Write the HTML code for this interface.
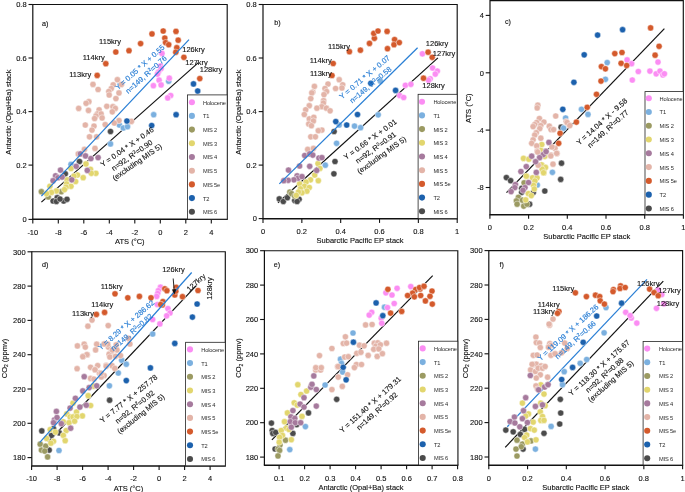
<!DOCTYPE html>
<html><head><meta charset="utf-8"><title>Scatter panels</title>
<style>
html,body{margin:0;padding:0;background:#fff;}
body{width:685px;height:492px;overflow:hidden;}
svg{display:block;font-family:"Liberation Sans",sans-serif;will-change:transform;filter:blur(0.25px);}
</style></head><body>
<svg width="685" height="492" viewBox="0 0 685 492">
<rect width="685" height="492" fill="#fff"/>
<path d="M32.8 4.5 H227.2 V219.1" fill="none" stroke="#111" stroke-width="1.15"/>
<line x1="32.8" y1="4" x2="32.8" y2="219.1" stroke="#111" stroke-width="1.2"/>
<line x1="32.2" y1="219.3" x2="227.75" y2="219.3" stroke="#111" stroke-width="1.5"/>
<line x1="28.5" y1="219.4" x2="32.8" y2="219.4" stroke="#111" stroke-width="1.1"/>
<text x="26.6" y="222.15" font-size="7.5" text-anchor="end" fill="#111" stroke="#111" stroke-width="0.12">0</text>
<line x1="28.5" y1="165.1" x2="32.8" y2="165.1" stroke="#111" stroke-width="1.1"/>
<text x="26.6" y="167.85" font-size="7.5" text-anchor="end" fill="#111" stroke="#111" stroke-width="0.12">0.2</text>
<line x1="28.5" y1="111.6" x2="32.8" y2="111.6" stroke="#111" stroke-width="1.1"/>
<text x="26.6" y="114.35" font-size="7.5" text-anchor="end" fill="#111" stroke="#111" stroke-width="0.12">0.4</text>
<line x1="28.5" y1="58" x2="32.8" y2="58" stroke="#111" stroke-width="1.1"/>
<text x="26.6" y="60.75" font-size="7.5" text-anchor="end" fill="#111" stroke="#111" stroke-width="0.12">0.6</text>
<line x1="28.5" y1="4.5" x2="32.8" y2="4.5" stroke="#111" stroke-width="1.1"/>
<text x="26.6" y="7.25" font-size="7.5" text-anchor="end" fill="#111" stroke="#111" stroke-width="0.12">0.8</text>
<line x1="32.8" y1="219.1" x2="32.8" y2="223.4" stroke="#111" stroke-width="1.1"/>
<text x="32.8" y="234.7" font-size="7.5" text-anchor="middle" fill="#111" stroke="#111" stroke-width="0.12">-10</text>
<line x1="58.3" y1="219.1" x2="58.3" y2="223.4" stroke="#111" stroke-width="1.1"/>
<text x="58.3" y="234.7" font-size="7.5" text-anchor="middle" fill="#111" stroke="#111" stroke-width="0.12">-8</text>
<line x1="83.8" y1="219.1" x2="83.8" y2="223.4" stroke="#111" stroke-width="1.1"/>
<text x="83.8" y="234.7" font-size="7.5" text-anchor="middle" fill="#111" stroke="#111" stroke-width="0.12">-6</text>
<line x1="109.3" y1="219.1" x2="109.3" y2="223.4" stroke="#111" stroke-width="1.1"/>
<text x="109.3" y="234.7" font-size="7.5" text-anchor="middle" fill="#111" stroke="#111" stroke-width="0.12">-4</text>
<line x1="134.8" y1="219.1" x2="134.8" y2="223.4" stroke="#111" stroke-width="1.1"/>
<text x="134.8" y="234.7" font-size="7.5" text-anchor="middle" fill="#111" stroke="#111" stroke-width="0.12">-2</text>
<line x1="160.3" y1="219.1" x2="160.3" y2="223.4" stroke="#111" stroke-width="1.1"/>
<text x="160.3" y="234.7" font-size="7.5" text-anchor="middle" fill="#111" stroke="#111" stroke-width="0.12">0</text>
<line x1="185.8" y1="219.1" x2="185.8" y2="223.4" stroke="#111" stroke-width="1.1"/>
<text x="185.8" y="234.7" font-size="7.5" text-anchor="middle" fill="#111" stroke="#111" stroke-width="0.12">2</text>
<line x1="211.3" y1="219.1" x2="211.3" y2="223.4" stroke="#111" stroke-width="1.1"/>
<text x="211.3" y="234.7" font-size="7.5" text-anchor="middle" fill="#111" stroke="#111" stroke-width="0.12">4</text>
<text x="11" y="112" font-size="7.5" text-anchor="middle" fill="#111" stroke="#111" stroke-width="0.12" transform="rotate(-90 11 112)">Antarctic (Opal+Ba) stack</text>
<text x="129.8" y="243.9" font-size="7.5" text-anchor="middle" fill="#111" stroke="#111" stroke-width="0.12">ATS (°C)</text>
<line x1="41.4" y1="202.1" x2="198.1" y2="62.9" stroke="#111" stroke-width="1.2"/>
<circle cx="110.5" cy="131.5" r="3.1" fill="#4b4b4b" stroke="#fff" stroke-width="0.45"/>
<circle cx="79.5" cy="161.5" r="3.1" fill="#4b4b4b" stroke="#fff" stroke-width="0.45"/>
<circle cx="65.3" cy="173.8" r="3.1" fill="#4b4b4b" stroke="#fff" stroke-width="0.45"/>
<circle cx="57.2" cy="197.7" r="3.1" fill="#4b4b4b" stroke="#fff" stroke-width="0.45"/>
<circle cx="53.1" cy="201" r="3.1" fill="#4b4b4b" stroke="#fff" stroke-width="0.45"/>
<circle cx="56.4" cy="201.5" r="3.1" fill="#4b4b4b" stroke="#fff" stroke-width="0.45"/>
<circle cx="63.7" cy="201" r="3.1" fill="#4b4b4b" stroke="#fff" stroke-width="0.45"/>
<circle cx="67" cy="199.3" r="3.1" fill="#4b4b4b" stroke="#fff" stroke-width="0.45"/>
<circle cx="60" cy="199" r="3.1" fill="#4b4b4b" stroke="#fff" stroke-width="0.45"/>
<circle cx="119.4" cy="125" r="3.1" fill="#7bb0df" stroke="#fff" stroke-width="0.45"/>
<circle cx="123.3" cy="128" r="3.1" fill="#7bb0df" stroke="#fff" stroke-width="0.45"/>
<circle cx="127.5" cy="126.7" r="3.1" fill="#7bb0df" stroke="#fff" stroke-width="0.45"/>
<circle cx="110.5" cy="143.9" r="3.1" fill="#7bb0df" stroke="#fff" stroke-width="0.45"/>
<circle cx="71" cy="164.4" r="3.1" fill="#7bb0df" stroke="#fff" stroke-width="0.45"/>
<circle cx="168.7" cy="81.2" r="3.1" fill="#7bb0df" stroke="#fff" stroke-width="0.45"/>
<circle cx="153.7" cy="114.7" r="3.1" fill="#7bb0df" stroke="#fff" stroke-width="0.45"/>
<circle cx="162" cy="53.4" r="3.1" fill="#fb8df3" stroke="#fff" stroke-width="0.45"/>
<circle cx="160.5" cy="66" r="3.1" fill="#fb8df3" stroke="#fff" stroke-width="0.45"/>
<circle cx="161.1" cy="68.6" r="3.1" fill="#fb8df3" stroke="#fff" stroke-width="0.45"/>
<circle cx="158.5" cy="72.1" r="3.1" fill="#fb8df3" stroke="#fff" stroke-width="0.45"/>
<circle cx="157.5" cy="74.1" r="3.1" fill="#fb8df3" stroke="#fff" stroke-width="0.45"/>
<circle cx="169.3" cy="78.2" r="3.1" fill="#fb8df3" stroke="#fff" stroke-width="0.45"/>
<circle cx="159.1" cy="80.2" r="3.1" fill="#fb8df3" stroke="#fff" stroke-width="0.45"/>
<circle cx="153.4" cy="85.7" r="3.1" fill="#fb8df3" stroke="#fff" stroke-width="0.45"/>
<circle cx="161.1" cy="84.9" r="3.1" fill="#fb8df3" stroke="#fff" stroke-width="0.45"/>
<circle cx="170.7" cy="95.5" r="3.1" fill="#fb8df3" stroke="#fff" stroke-width="0.45"/>
<circle cx="167.7" cy="97.9" r="3.1" fill="#fb8df3" stroke="#fff" stroke-width="0.45"/>
<circle cx="61.3" cy="191.7" r="3.1" fill="#9b9a62" stroke="#fff" stroke-width="0.45"/>
<circle cx="41.4" cy="191.7" r="3.1" fill="#9b9a62" stroke="#fff" stroke-width="0.45"/>
<circle cx="48.3" cy="196.9" r="3.1" fill="#9b9a62" stroke="#fff" stroke-width="0.45"/>
<circle cx="86" cy="163.9" r="3.1" fill="#e2d66e" stroke="#fff" stroke-width="0.45"/>
<circle cx="71" cy="168.5" r="3.1" fill="#e2d66e" stroke="#fff" stroke-width="0.45"/>
<circle cx="90.5" cy="169.3" r="3.1" fill="#e2d66e" stroke="#fff" stroke-width="0.45"/>
<circle cx="95.9" cy="173.3" r="3.1" fill="#e2d66e" stroke="#fff" stroke-width="0.45"/>
<circle cx="91.3" cy="173.3" r="3.1" fill="#e2d66e" stroke="#fff" stroke-width="0.45"/>
<circle cx="77.5" cy="175" r="3.1" fill="#e2d66e" stroke="#fff" stroke-width="0.45"/>
<circle cx="74" cy="176.1" r="3.1" fill="#e2d66e" stroke="#fff" stroke-width="0.45"/>
<circle cx="83.2" cy="177.7" r="3.1" fill="#e2d66e" stroke="#fff" stroke-width="0.45"/>
<circle cx="67" cy="179.8" r="3.1" fill="#e2d66e" stroke="#fff" stroke-width="0.45"/>
<circle cx="75.6" cy="181.5" r="3.1" fill="#e2d66e" stroke="#fff" stroke-width="0.45"/>
<circle cx="66.6" cy="183.9" r="3.1" fill="#e2d66e" stroke="#fff" stroke-width="0.45"/>
<circle cx="71" cy="186.3" r="3.1" fill="#e2d66e" stroke="#fff" stroke-width="0.45"/>
<circle cx="66.1" cy="187.2" r="3.1" fill="#e2d66e" stroke="#fff" stroke-width="0.45"/>
<circle cx="64.5" cy="189.6" r="3.1" fill="#e2d66e" stroke="#fff" stroke-width="0.45"/>
<circle cx="49.9" cy="186.3" r="3.1" fill="#e2d66e" stroke="#fff" stroke-width="0.45"/>
<circle cx="56.4" cy="190.9" r="3.1" fill="#e2d66e" stroke="#fff" stroke-width="0.45"/>
<circle cx="51.5" cy="192.4" r="3.1" fill="#e2d66e" stroke="#fff" stroke-width="0.45"/>
<circle cx="46.6" cy="193.7" r="3.1" fill="#e2d66e" stroke="#fff" stroke-width="0.45"/>
<circle cx="93" cy="84.4" r="3.1" fill="#e3b4a8" stroke="#fff" stroke-width="0.45"/>
<circle cx="98.1" cy="89.5" r="3.1" fill="#e3b4a8" stroke="#fff" stroke-width="0.45"/>
<circle cx="117.4" cy="79.7" r="3.1" fill="#e3b4a8" stroke="#fff" stroke-width="0.45"/>
<circle cx="121.4" cy="84.4" r="3.1" fill="#e3b4a8" stroke="#fff" stroke-width="0.45"/>
<circle cx="113.2" cy="84.8" r="3.1" fill="#e3b4a8" stroke="#fff" stroke-width="0.45"/>
<circle cx="111.3" cy="88.5" r="3.1" fill="#e3b4a8" stroke="#fff" stroke-width="0.45"/>
<circle cx="108.8" cy="91.5" r="3.1" fill="#e3b4a8" stroke="#fff" stroke-width="0.45"/>
<circle cx="109.2" cy="95" r="3.1" fill="#e3b4a8" stroke="#fff" stroke-width="0.45"/>
<circle cx="119" cy="92.9" r="3.1" fill="#e3b4a8" stroke="#fff" stroke-width="0.45"/>
<circle cx="115.9" cy="98.6" r="3.1" fill="#e3b4a8" stroke="#fff" stroke-width="0.45"/>
<circle cx="88.9" cy="101.7" r="3.1" fill="#e3b4a8" stroke="#fff" stroke-width="0.45"/>
<circle cx="86.1" cy="103.3" r="3.1" fill="#e3b4a8" stroke="#fff" stroke-width="0.45"/>
<circle cx="78.7" cy="108.4" r="3.1" fill="#e3b4a8" stroke="#fff" stroke-width="0.45"/>
<circle cx="88.5" cy="110.4" r="3.1" fill="#e3b4a8" stroke="#fff" stroke-width="0.45"/>
<circle cx="106.8" cy="106.3" r="3.1" fill="#e3b4a8" stroke="#fff" stroke-width="0.45"/>
<circle cx="112.9" cy="106.7" r="3.1" fill="#e3b4a8" stroke="#fff" stroke-width="0.45"/>
<circle cx="115.3" cy="108.4" r="3.1" fill="#e3b4a8" stroke="#fff" stroke-width="0.45"/>
<circle cx="112.3" cy="111.8" r="3.1" fill="#e3b4a8" stroke="#fff" stroke-width="0.45"/>
<circle cx="99.1" cy="109.8" r="3.1" fill="#e3b4a8" stroke="#fff" stroke-width="0.45"/>
<circle cx="97.4" cy="113.9" r="3.1" fill="#e3b4a8" stroke="#fff" stroke-width="0.45"/>
<circle cx="101.1" cy="113.9" r="3.1" fill="#e3b4a8" stroke="#fff" stroke-width="0.45"/>
<circle cx="96" cy="115.9" r="3.1" fill="#e3b4a8" stroke="#fff" stroke-width="0.45"/>
<circle cx="94.6" cy="118.5" r="3.1" fill="#e3b4a8" stroke="#fff" stroke-width="0.45"/>
<circle cx="102.1" cy="117.9" r="3.1" fill="#e3b4a8" stroke="#fff" stroke-width="0.45"/>
<circle cx="85.3" cy="125" r="3.1" fill="#e3b4a8" stroke="#fff" stroke-width="0.45"/>
<circle cx="94" cy="126.1" r="3.1" fill="#e3b4a8" stroke="#fff" stroke-width="0.45"/>
<circle cx="92" cy="130.1" r="3.1" fill="#e3b4a8" stroke="#fff" stroke-width="0.45"/>
<circle cx="105.2" cy="124.6" r="3.1" fill="#e3b4a8" stroke="#fff" stroke-width="0.45"/>
<circle cx="119" cy="120.6" r="3.1" fill="#e3b4a8" stroke="#fff" stroke-width="0.45"/>
<circle cx="114.3" cy="123" r="3.1" fill="#e3b4a8" stroke="#fff" stroke-width="0.45"/>
<circle cx="89.5" cy="136.8" r="3.1" fill="#e3b4a8" stroke="#fff" stroke-width="0.45"/>
<circle cx="96.6" cy="136.8" r="3.1" fill="#e3b4a8" stroke="#fff" stroke-width="0.45"/>
<circle cx="95" cy="148.4" r="3.1" fill="#e3b4a8" stroke="#fff" stroke-width="0.45"/>
<circle cx="84.4" cy="149.4" r="3.1" fill="#e3b4a8" stroke="#fff" stroke-width="0.45"/>
<circle cx="78.3" cy="153.9" r="3.1" fill="#e3b4a8" stroke="#fff" stroke-width="0.45"/>
<circle cx="131.4" cy="121.4" r="3.1" fill="#e3b4a8" stroke="#fff" stroke-width="0.45"/>
<circle cx="80.4" cy="153.9" r="3.1" fill="#a67a9d" stroke="#fff" stroke-width="0.45"/>
<circle cx="85.5" cy="155.9" r="3.1" fill="#a67a9d" stroke="#fff" stroke-width="0.45"/>
<circle cx="90.9" cy="158.6" r="3.1" fill="#a67a9d" stroke="#fff" stroke-width="0.45"/>
<circle cx="98.1" cy="157.6" r="3.1" fill="#a67a9d" stroke="#fff" stroke-width="0.45"/>
<circle cx="76.2" cy="166.3" r="3.1" fill="#a67a9d" stroke="#fff" stroke-width="0.45"/>
<circle cx="87.3" cy="170.4" r="3.1" fill="#a67a9d" stroke="#fff" stroke-width="0.45"/>
<circle cx="60.5" cy="170.1" r="3.1" fill="#a67a9d" stroke="#fff" stroke-width="0.45"/>
<circle cx="55.6" cy="175.8" r="3.1" fill="#a67a9d" stroke="#fff" stroke-width="0.45"/>
<circle cx="58" cy="177.7" r="3.1" fill="#a67a9d" stroke="#fff" stroke-width="0.45"/>
<circle cx="62.1" cy="177.1" r="3.1" fill="#a67a9d" stroke="#fff" stroke-width="0.45"/>
<circle cx="53.1" cy="180.7" r="3.1" fill="#a67a9d" stroke="#fff" stroke-width="0.45"/>
<circle cx="71.8" cy="179.8" r="3.1" fill="#a67a9d" stroke="#fff" stroke-width="0.45"/>
<circle cx="105.8" cy="63.7" r="3.1" fill="#d45a2c" stroke="#fff" stroke-width="0.45"/>
<circle cx="97.2" cy="75.4" r="3.1" fill="#d45a2c" stroke="#fff" stroke-width="0.45"/>
<circle cx="115.8" cy="52" r="3.1" fill="#d45a2c" stroke="#fff" stroke-width="0.45"/>
<circle cx="129" cy="50.7" r="3.1" fill="#d45a2c" stroke="#fff" stroke-width="0.45"/>
<circle cx="140.6" cy="43.6" r="3.1" fill="#d45a2c" stroke="#fff" stroke-width="0.45"/>
<circle cx="152" cy="33.9" r="3.1" fill="#d45a2c" stroke="#fff" stroke-width="0.45"/>
<circle cx="163.2" cy="31" r="3.1" fill="#d45a2c" stroke="#fff" stroke-width="0.45"/>
<circle cx="176" cy="31.4" r="3.1" fill="#d45a2c" stroke="#fff" stroke-width="0.45"/>
<circle cx="164.8" cy="38.1" r="3.1" fill="#d45a2c" stroke="#fff" stroke-width="0.45"/>
<circle cx="178.2" cy="40.2" r="3.1" fill="#d45a2c" stroke="#fff" stroke-width="0.45"/>
<circle cx="165.6" cy="42.6" r="3.1" fill="#d45a2c" stroke="#fff" stroke-width="0.45"/>
<circle cx="168.7" cy="44.7" r="3.1" fill="#d45a2c" stroke="#fff" stroke-width="0.45"/>
<circle cx="176.8" cy="47.7" r="3.1" fill="#d45a2c" stroke="#fff" stroke-width="0.45"/>
<circle cx="175.8" cy="52.2" r="3.1" fill="#d45a2c" stroke="#fff" stroke-width="0.45"/>
<circle cx="183.9" cy="57.3" r="3.1" fill="#d45a2c" stroke="#fff" stroke-width="0.45"/>
<circle cx="199.8" cy="78.6" r="3.1" fill="#d45a2c" stroke="#fff" stroke-width="0.45"/>
<circle cx="126.9" cy="121" r="3.1" fill="#1c61ad" stroke="#fff" stroke-width="0.45"/>
<circle cx="193.5" cy="83.9" r="3.1" fill="#1c61ad" stroke="#fff" stroke-width="0.45"/>
<circle cx="197.7" cy="91" r="3.1" fill="#1c61ad" stroke="#fff" stroke-width="0.45"/>
<circle cx="176.1" cy="114.7" r="3.1" fill="#1c61ad" stroke="#fff" stroke-width="0.45"/>
<circle cx="151.7" cy="125.5" r="3.1" fill="#1c61ad" stroke="#fff" stroke-width="0.45"/>
<line x1="41.4" y1="196.1" x2="189" y2="39.6" stroke="#2a7fd5" stroke-width="1.25"/>
<rect x="187.4" y="94.9" width="39.8" height="124.2" fill="#fff" stroke="#222" stroke-width="0.8"/>
<clipPath id="lc151"><rect x="187.4" y="94.9" width="39.2" height="124.2"/></clipPath>
<circle cx="191.9" cy="102.2" r="3.05" fill="#fb8df3"/>
<text x="203" y="104.65" font-size="5.7" fill="#2a2a2a" letter-spacing="-0.15" clip-path="url(#lc151)">Holocene</text>
<circle cx="191.9" cy="115.9" r="3.05" fill="#7bb0df"/>
<text x="203" y="118.35" font-size="5.7" fill="#2a2a2a" letter-spacing="-0.15" clip-path="url(#lc151)">T1</text>
<circle cx="191.9" cy="129.6" r="3.05" fill="#9b9a62"/>
<text x="203" y="132.05" font-size="5.7" fill="#2a2a2a" letter-spacing="-0.15" clip-path="url(#lc151)">MIS 2</text>
<circle cx="191.9" cy="143.3" r="3.05" fill="#e2d66e"/>
<text x="203" y="145.75" font-size="5.7" fill="#2a2a2a" letter-spacing="-0.15" clip-path="url(#lc151)">MIS 3</text>
<circle cx="191.9" cy="157" r="3.05" fill="#a67a9d"/>
<text x="203" y="159.45" font-size="5.7" fill="#2a2a2a" letter-spacing="-0.15" clip-path="url(#lc151)">MIS 4</text>
<circle cx="191.9" cy="170.7" r="3.05" fill="#e3b4a8"/>
<text x="203" y="173.15" font-size="5.7" fill="#2a2a2a" letter-spacing="-0.15" clip-path="url(#lc151)">MIS 5</text>
<circle cx="191.9" cy="184.4" r="3.05" fill="#d45a2c"/>
<text x="203" y="186.85" font-size="5.7" fill="#2a2a2a" letter-spacing="-0.15" clip-path="url(#lc151)">MIS 5e</text>
<circle cx="191.9" cy="198.1" r="3.05" fill="#1c61ad"/>
<text x="203" y="200.55" font-size="5.7" fill="#2a2a2a" letter-spacing="-0.15" clip-path="url(#lc151)">T2</text>
<circle cx="191.9" cy="211.8" r="3.05" fill="#4b4b4b"/>
<text x="203" y="214.25" font-size="5.7" fill="#2a2a2a" letter-spacing="-0.15" clip-path="url(#lc151)">MIS 6</text>
<text x="45.3" y="25.69" font-size="7.2" text-anchor="middle" fill="#111" stroke="#111" stroke-width="0.12">a)</text>
<text x="110.1" y="44.1" font-size="7.5" text-anchor="middle" fill="#111" stroke="#111" stroke-width="0.12">115kry</text>
<text x="93.7" y="60.1" font-size="7.5" text-anchor="middle" fill="#111" stroke="#111" stroke-width="0.12">114kry</text>
<text x="80.2" y="76.9" font-size="7.5" text-anchor="middle" fill="#111" stroke="#111" stroke-width="0.12">113kry</text>
<text x="193.5" y="52.4" font-size="7.5" text-anchor="middle" fill="#111" stroke="#111" stroke-width="0.12">126kry</text>
<text x="196.6" y="64.6" font-size="7.5" text-anchor="middle" fill="#111" stroke="#111" stroke-width="0.12">127kry</text>
<text x="211" y="72.1" font-size="7.5" text-anchor="middle" fill="#111" stroke="#111" stroke-width="0.12">128kry</text>
<text x="141.61" y="69.21" font-size="7.5" text-anchor="middle" fill="#2a7fd5" stroke="#2a7fd5" stroke-width="0.16" transform="rotate(-42 141.61 69.21)">Y = 0.05 * X + 0.55</text>
<text x="147.81" y="76.51" font-size="7.5" text-anchor="middle" fill="#2a7fd5" stroke="#2a7fd5" stroke-width="0.16" transform="rotate(-42 147.81 76.51)">n=149, R<tspan font-size="4.8" dy="-2.6">2</tspan><tspan dy="2.6">=</tspan>0.76</text>
<text x="128.55" y="149.01" font-size="7.5" text-anchor="middle" fill="#111" stroke="#111" stroke-width="0.12" transform="rotate(-35 128.55 149.01)">Y = 0.04 * X + 0.46</text>
<text x="133.45" y="157.41" font-size="7.5" text-anchor="middle" fill="#111" stroke="#111" stroke-width="0.12" transform="rotate(-35 133.45 157.41)">n=92, R<tspan font-size="4.8" dy="-2.6">2</tspan><tspan dy="2.6">=</tspan>0.90</text>
<text x="138.55" y="164.21" font-size="7.5" text-anchor="middle" fill="#111" stroke="#111" stroke-width="0.12" transform="rotate(-35 138.55 164.21)">(excluding MIS 5)</text>
<path d="M263 4.5 H457.2 V218.6" fill="none" stroke="#111" stroke-width="1.15"/>
<line x1="263" y1="4" x2="263" y2="218.6" stroke="#111" stroke-width="1.2"/>
<line x1="262.4" y1="218.8" x2="457.75" y2="218.8" stroke="#111" stroke-width="1.5"/>
<line x1="258.7" y1="218.6" x2="263" y2="218.6" stroke="#111" stroke-width="1.1"/>
<text x="256.8" y="221.35" font-size="7.5" text-anchor="end" fill="#111" stroke="#111" stroke-width="0.12">0</text>
<line x1="258.7" y1="165.1" x2="263" y2="165.1" stroke="#111" stroke-width="1.1"/>
<text x="256.8" y="167.85" font-size="7.5" text-anchor="end" fill="#111" stroke="#111" stroke-width="0.12">0.2</text>
<line x1="258.7" y1="111.6" x2="263" y2="111.6" stroke="#111" stroke-width="1.1"/>
<text x="256.8" y="114.35" font-size="7.5" text-anchor="end" fill="#111" stroke="#111" stroke-width="0.12">0.4</text>
<line x1="258.7" y1="58" x2="263" y2="58" stroke="#111" stroke-width="1.1"/>
<text x="256.8" y="60.75" font-size="7.5" text-anchor="end" fill="#111" stroke="#111" stroke-width="0.12">0.6</text>
<line x1="258.7" y1="4.5" x2="263" y2="4.5" stroke="#111" stroke-width="1.1"/>
<text x="256.8" y="7.25" font-size="7.5" text-anchor="end" fill="#111" stroke="#111" stroke-width="0.12">0.8</text>
<line x1="263" y1="218.6" x2="263" y2="222.9" stroke="#111" stroke-width="1.1"/>
<text x="263" y="234.2" font-size="7.5" text-anchor="middle" fill="#111" stroke="#111" stroke-width="0.12">0</text>
<line x1="301.84" y1="218.6" x2="301.84" y2="222.9" stroke="#111" stroke-width="1.1"/>
<text x="301.84" y="234.2" font-size="7.5" text-anchor="middle" fill="#111" stroke="#111" stroke-width="0.12">0.2</text>
<line x1="340.68" y1="218.6" x2="340.68" y2="222.9" stroke="#111" stroke-width="1.1"/>
<text x="340.68" y="234.2" font-size="7.5" text-anchor="middle" fill="#111" stroke="#111" stroke-width="0.12">0.4</text>
<line x1="379.52" y1="218.6" x2="379.52" y2="222.9" stroke="#111" stroke-width="1.1"/>
<text x="379.52" y="234.2" font-size="7.5" text-anchor="middle" fill="#111" stroke="#111" stroke-width="0.12">0.6</text>
<line x1="418.36" y1="218.6" x2="418.36" y2="222.9" stroke="#111" stroke-width="1.1"/>
<text x="418.36" y="234.2" font-size="7.5" text-anchor="middle" fill="#111" stroke="#111" stroke-width="0.12">0.8</text>
<line x1="457.2" y1="218.6" x2="457.2" y2="222.9" stroke="#111" stroke-width="1.1"/>
<text x="457.2" y="234.2" font-size="7.5" text-anchor="middle" fill="#111" stroke="#111" stroke-width="0.12">1</text>
<text x="240.7" y="112" font-size="7.5" text-anchor="middle" fill="#111" stroke="#111" stroke-width="0.12" transform="rotate(-90 240.7 112)">Antarctic (Opal+Ba) stack</text>
<text x="360.1" y="242.9" font-size="7.5" text-anchor="middle" fill="#111" stroke="#111" stroke-width="0.12">Subarctic Pacific EP stack</text>
<line x1="278" y1="202.8" x2="437.9" y2="57.9" stroke="#111" stroke-width="1.2"/>
<circle cx="334.1" cy="131.5" r="3.1" fill="#4b4b4b" stroke="#fff" stroke-width="0.45"/>
<circle cx="335" cy="161.5" r="3.1" fill="#4b4b4b" stroke="#fff" stroke-width="0.45"/>
<circle cx="333.9" cy="173.8" r="3.1" fill="#4b4b4b" stroke="#fff" stroke-width="0.45"/>
<circle cx="279.3" cy="198.9" r="3.1" fill="#4b4b4b" stroke="#fff" stroke-width="0.45"/>
<circle cx="283.3" cy="201.5" r="3.1" fill="#4b4b4b" stroke="#fff" stroke-width="0.45"/>
<circle cx="287.4" cy="197.7" r="3.1" fill="#4b4b4b" stroke="#fff" stroke-width="0.45"/>
<circle cx="294.7" cy="200.5" r="3.1" fill="#4b4b4b" stroke="#fff" stroke-width="0.45"/>
<circle cx="299.1" cy="199.3" r="3.1" fill="#4b4b4b" stroke="#fff" stroke-width="0.45"/>
<circle cx="297.1" cy="201.5" r="3.1" fill="#4b4b4b" stroke="#fff" stroke-width="0.45"/>
<circle cx="339.2" cy="125" r="3.1" fill="#7bb0df" stroke="#fff" stroke-width="0.45"/>
<circle cx="354.5" cy="126.1" r="3.1" fill="#7bb0df" stroke="#fff" stroke-width="0.45"/>
<circle cx="360.6" cy="127.7" r="3.1" fill="#7bb0df" stroke="#fff" stroke-width="0.45"/>
<circle cx="336.6" cy="143.3" r="3.1" fill="#7bb0df" stroke="#fff" stroke-width="0.45"/>
<circle cx="325.3" cy="165.2" r="3.1" fill="#7bb0df" stroke="#fff" stroke-width="0.45"/>
<circle cx="378.2" cy="114.8" r="3.1" fill="#7bb0df" stroke="#fff" stroke-width="0.45"/>
<circle cx="380.4" cy="81.2" r="3.1" fill="#7bb0df" stroke="#fff" stroke-width="0.45"/>
<circle cx="422.4" cy="53.8" r="3.1" fill="#fb8df3" stroke="#fff" stroke-width="0.45"/>
<circle cx="432.6" cy="68" r="3.1" fill="#fb8df3" stroke="#fff" stroke-width="0.45"/>
<circle cx="437.3" cy="71.1" r="3.1" fill="#fb8df3" stroke="#fff" stroke-width="0.45"/>
<circle cx="435.3" cy="74.1" r="3.1" fill="#fb8df3" stroke="#fff" stroke-width="0.45"/>
<circle cx="430.2" cy="78.8" r="3.1" fill="#fb8df3" stroke="#fff" stroke-width="0.45"/>
<circle cx="428.5" cy="80.2" r="3.1" fill="#fb8df3" stroke="#fff" stroke-width="0.45"/>
<circle cx="405.4" cy="85.3" r="3.1" fill="#fb8df3" stroke="#fff" stroke-width="0.45"/>
<circle cx="410.9" cy="84.3" r="3.1" fill="#fb8df3" stroke="#fff" stroke-width="0.45"/>
<circle cx="399.7" cy="95.5" r="3.1" fill="#fb8df3" stroke="#fff" stroke-width="0.45"/>
<circle cx="403.7" cy="97.5" r="3.1" fill="#fb8df3" stroke="#fff" stroke-width="0.45"/>
<circle cx="289.8" cy="192" r="3.1" fill="#9b9a62" stroke="#fff" stroke-width="0.45"/>
<circle cx="291.5" cy="193.7" r="3.1" fill="#9b9a62" stroke="#fff" stroke-width="0.45"/>
<circle cx="294.7" cy="196.1" r="3.1" fill="#9b9a62" stroke="#fff" stroke-width="0.45"/>
<circle cx="318" cy="163.6" r="3.1" fill="#e2d66e" stroke="#fff" stroke-width="0.45"/>
<circle cx="319.9" cy="168.5" r="3.1" fill="#e2d66e" stroke="#fff" stroke-width="0.45"/>
<circle cx="314.7" cy="175" r="3.1" fill="#e2d66e" stroke="#fff" stroke-width="0.45"/>
<circle cx="318.3" cy="180.7" r="3.1" fill="#e2d66e" stroke="#fff" stroke-width="0.45"/>
<circle cx="310.5" cy="179.8" r="3.1" fill="#e2d66e" stroke="#fff" stroke-width="0.45"/>
<circle cx="306.1" cy="182" r="3.1" fill="#e2d66e" stroke="#fff" stroke-width="0.45"/>
<circle cx="299.6" cy="183.9" r="3.1" fill="#e2d66e" stroke="#fff" stroke-width="0.45"/>
<circle cx="304.5" cy="186.3" r="3.1" fill="#e2d66e" stroke="#fff" stroke-width="0.45"/>
<circle cx="309.3" cy="187.5" r="3.1" fill="#e2d66e" stroke="#fff" stroke-width="0.45"/>
<circle cx="300.4" cy="188.8" r="3.1" fill="#e2d66e" stroke="#fff" stroke-width="0.45"/>
<circle cx="306.9" cy="191.2" r="3.1" fill="#e2d66e" stroke="#fff" stroke-width="0.45"/>
<circle cx="302" cy="192.8" r="3.1" fill="#e2d66e" stroke="#fff" stroke-width="0.45"/>
<circle cx="298.4" cy="192" r="3.1" fill="#e2d66e" stroke="#fff" stroke-width="0.45"/>
<circle cx="296.3" cy="195.3" r="3.1" fill="#e2d66e" stroke="#fff" stroke-width="0.45"/>
<circle cx="339.2" cy="79.7" r="3.1" fill="#e3b4a8" stroke="#fff" stroke-width="0.45"/>
<circle cx="342.7" cy="84.8" r="3.1" fill="#e3b4a8" stroke="#fff" stroke-width="0.45"/>
<circle cx="341.9" cy="88" r="3.1" fill="#e3b4a8" stroke="#fff" stroke-width="0.45"/>
<circle cx="335.6" cy="88.5" r="3.1" fill="#e3b4a8" stroke="#fff" stroke-width="0.45"/>
<circle cx="328" cy="84" r="3.1" fill="#e3b4a8" stroke="#fff" stroke-width="0.45"/>
<circle cx="325" cy="88.5" r="3.1" fill="#e3b4a8" stroke="#fff" stroke-width="0.45"/>
<circle cx="326.6" cy="91.5" r="3.1" fill="#e3b4a8" stroke="#fff" stroke-width="0.45"/>
<circle cx="324" cy="94.6" r="3.1" fill="#e3b4a8" stroke="#fff" stroke-width="0.45"/>
<circle cx="314.4" cy="86.4" r="3.1" fill="#e3b4a8" stroke="#fff" stroke-width="0.45"/>
<circle cx="312.8" cy="92.1" r="3.1" fill="#e3b4a8" stroke="#fff" stroke-width="0.45"/>
<circle cx="311.8" cy="92.9" r="3.1" fill="#e3b4a8" stroke="#fff" stroke-width="0.45"/>
<circle cx="310.8" cy="98.6" r="3.1" fill="#e3b4a8" stroke="#fff" stroke-width="0.45"/>
<circle cx="323.6" cy="100.7" r="3.1" fill="#e3b4a8" stroke="#fff" stroke-width="0.45"/>
<circle cx="323.4" cy="103.1" r="3.1" fill="#e3b4a8" stroke="#fff" stroke-width="0.45"/>
<circle cx="321.9" cy="106.7" r="3.1" fill="#e3b4a8" stroke="#fff" stroke-width="0.45"/>
<circle cx="326.4" cy="108.2" r="3.1" fill="#e3b4a8" stroke="#fff" stroke-width="0.45"/>
<circle cx="330.1" cy="110.8" r="3.1" fill="#e3b4a8" stroke="#fff" stroke-width="0.45"/>
<circle cx="316.9" cy="108.2" r="3.1" fill="#e3b4a8" stroke="#fff" stroke-width="0.45"/>
<circle cx="309.3" cy="105.7" r="3.1" fill="#e3b4a8" stroke="#fff" stroke-width="0.45"/>
<circle cx="305.7" cy="109.8" r="3.1" fill="#e3b4a8" stroke="#fff" stroke-width="0.45"/>
<circle cx="304.3" cy="114.5" r="3.1" fill="#e3b4a8" stroke="#fff" stroke-width="0.45"/>
<circle cx="309.3" cy="118.9" r="3.1" fill="#e3b4a8" stroke="#fff" stroke-width="0.45"/>
<circle cx="313.8" cy="117.3" r="3.1" fill="#e3b4a8" stroke="#fff" stroke-width="0.45"/>
<circle cx="313.4" cy="121" r="3.1" fill="#e3b4a8" stroke="#fff" stroke-width="0.45"/>
<circle cx="308.7" cy="124" r="3.1" fill="#e3b4a8" stroke="#fff" stroke-width="0.45"/>
<circle cx="311.4" cy="125.7" r="3.1" fill="#e3b4a8" stroke="#fff" stroke-width="0.45"/>
<circle cx="321.9" cy="130.1" r="3.1" fill="#e3b4a8" stroke="#fff" stroke-width="0.45"/>
<circle cx="318.3" cy="130.7" r="3.1" fill="#e3b4a8" stroke="#fff" stroke-width="0.45"/>
<circle cx="310.8" cy="136.8" r="3.1" fill="#e3b4a8" stroke="#fff" stroke-width="0.45"/>
<circle cx="315.4" cy="136.8" r="3.1" fill="#e3b4a8" stroke="#fff" stroke-width="0.45"/>
<circle cx="307.7" cy="149.4" r="3.1" fill="#e3b4a8" stroke="#fff" stroke-width="0.45"/>
<circle cx="313.4" cy="148.4" r="3.1" fill="#e3b4a8" stroke="#fff" stroke-width="0.45"/>
<circle cx="304.7" cy="155.5" r="3.1" fill="#a67a9d" stroke="#fff" stroke-width="0.45"/>
<circle cx="309.7" cy="153.9" r="3.1" fill="#a67a9d" stroke="#fff" stroke-width="0.45"/>
<circle cx="312.8" cy="155.1" r="3.1" fill="#a67a9d" stroke="#fff" stroke-width="0.45"/>
<circle cx="318.9" cy="158" r="3.1" fill="#a67a9d" stroke="#fff" stroke-width="0.45"/>
<circle cx="321.9" cy="157.6" r="3.1" fill="#a67a9d" stroke="#fff" stroke-width="0.45"/>
<circle cx="299.6" cy="166" r="3.1" fill="#a67a9d" stroke="#fff" stroke-width="0.45"/>
<circle cx="309.7" cy="166.3" r="3.1" fill="#a67a9d" stroke="#fff" stroke-width="0.45"/>
<circle cx="288.5" cy="170.1" r="3.1" fill="#a67a9d" stroke="#fff" stroke-width="0.45"/>
<circle cx="316.7" cy="170.4" r="3.1" fill="#a67a9d" stroke="#fff" stroke-width="0.45"/>
<circle cx="297.1" cy="175.8" r="3.1" fill="#a67a9d" stroke="#fff" stroke-width="0.45"/>
<circle cx="298" cy="178.2" r="3.1" fill="#a67a9d" stroke="#fff" stroke-width="0.45"/>
<circle cx="302" cy="176.6" r="3.1" fill="#a67a9d" stroke="#fff" stroke-width="0.45"/>
<circle cx="293.9" cy="179.8" r="3.1" fill="#a67a9d" stroke="#fff" stroke-width="0.45"/>
<circle cx="288.2" cy="180.3" r="3.1" fill="#a67a9d" stroke="#fff" stroke-width="0.45"/>
<circle cx="283.8" cy="180.7" r="3.1" fill="#a67a9d" stroke="#fff" stroke-width="0.45"/>
<circle cx="333.2" cy="63.5" r="3.1" fill="#d45a2c" stroke="#fff" stroke-width="0.45"/>
<circle cx="332" cy="75.5" r="3.1" fill="#d45a2c" stroke="#fff" stroke-width="0.45"/>
<circle cx="349.4" cy="51.7" r="3.1" fill="#d45a2c" stroke="#fff" stroke-width="0.45"/>
<circle cx="360.4" cy="50.2" r="3.1" fill="#d45a2c" stroke="#fff" stroke-width="0.45"/>
<circle cx="369.5" cy="43.4" r="3.1" fill="#d45a2c" stroke="#fff" stroke-width="0.45"/>
<circle cx="374.4" cy="38.3" r="3.1" fill="#d45a2c" stroke="#fff" stroke-width="0.45"/>
<circle cx="373.8" cy="33.4" r="3.1" fill="#d45a2c" stroke="#fff" stroke-width="0.45"/>
<circle cx="378" cy="31" r="3.1" fill="#d45a2c" stroke="#fff" stroke-width="0.45"/>
<circle cx="387.1" cy="31.4" r="3.1" fill="#d45a2c" stroke="#fff" stroke-width="0.45"/>
<circle cx="394.6" cy="39.6" r="3.1" fill="#d45a2c" stroke="#fff" stroke-width="0.45"/>
<circle cx="394" cy="44.7" r="3.1" fill="#d45a2c" stroke="#fff" stroke-width="0.45"/>
<circle cx="399.3" cy="42.6" r="3.1" fill="#d45a2c" stroke="#fff" stroke-width="0.45"/>
<circle cx="387.5" cy="48.7" r="3.1" fill="#d45a2c" stroke="#fff" stroke-width="0.45"/>
<circle cx="428.1" cy="52.2" r="3.1" fill="#d45a2c" stroke="#fff" stroke-width="0.45"/>
<circle cx="432.2" cy="57.3" r="3.1" fill="#d45a2c" stroke="#fff" stroke-width="0.45"/>
<circle cx="423.5" cy="78.2" r="3.1" fill="#d45a2c" stroke="#fff" stroke-width="0.45"/>
<circle cx="335.8" cy="121.6" r="3.1" fill="#1c61ad" stroke="#fff" stroke-width="0.45"/>
<circle cx="346.7" cy="125" r="3.1" fill="#1c61ad" stroke="#fff" stroke-width="0.45"/>
<circle cx="357.5" cy="114.5" r="3.1" fill="#1c61ad" stroke="#fff" stroke-width="0.45"/>
<circle cx="370.8" cy="83.3" r="3.1" fill="#1c61ad" stroke="#fff" stroke-width="0.45"/>
<circle cx="395.6" cy="90.4" r="3.1" fill="#1c61ad" stroke="#fff" stroke-width="0.45"/>
<line x1="279.3" y1="183.9" x2="417.6" y2="47.7" stroke="#2a7fd5" stroke-width="1.25"/>
<rect x="418.1" y="94.3" width="39.1" height="124.3" fill="#fff" stroke="#222" stroke-width="0.8"/>
<clipPath id="lc323"><rect x="418.1" y="94.3" width="38.5" height="124.3"/></clipPath>
<circle cx="422" cy="101.7" r="3.05" fill="#fb8df3"/>
<text x="433.4" y="104.15" font-size="5.7" fill="#2a2a2a" letter-spacing="-0.15" clip-path="url(#lc323)">Holocene</text>
<circle cx="422" cy="115.4" r="3.05" fill="#7bb0df"/>
<text x="433.4" y="117.85" font-size="5.7" fill="#2a2a2a" letter-spacing="-0.15" clip-path="url(#lc323)">T1</text>
<circle cx="422" cy="129.1" r="3.05" fill="#9b9a62"/>
<text x="433.4" y="131.55" font-size="5.7" fill="#2a2a2a" letter-spacing="-0.15" clip-path="url(#lc323)">MIS 2</text>
<circle cx="422" cy="142.8" r="3.05" fill="#e2d66e"/>
<text x="433.4" y="145.25" font-size="5.7" fill="#2a2a2a" letter-spacing="-0.15" clip-path="url(#lc323)">MIS 3</text>
<circle cx="422" cy="156.5" r="3.05" fill="#a67a9d"/>
<text x="433.4" y="158.95" font-size="5.7" fill="#2a2a2a" letter-spacing="-0.15" clip-path="url(#lc323)">MIS 4</text>
<circle cx="422" cy="170.2" r="3.05" fill="#e3b4a8"/>
<text x="433.4" y="172.65" font-size="5.7" fill="#2a2a2a" letter-spacing="-0.15" clip-path="url(#lc323)">MIS 5</text>
<circle cx="422" cy="183.9" r="3.05" fill="#d45a2c"/>
<text x="433.4" y="186.35" font-size="5.7" fill="#2a2a2a" letter-spacing="-0.15" clip-path="url(#lc323)">MIS 5e</text>
<circle cx="422" cy="197.6" r="3.05" fill="#1c61ad"/>
<text x="433.4" y="200.05" font-size="5.7" fill="#2a2a2a" letter-spacing="-0.15" clip-path="url(#lc323)">T2</text>
<circle cx="422" cy="211.3" r="3.05" fill="#4b4b4b"/>
<text x="433.4" y="213.75" font-size="5.7" fill="#2a2a2a" letter-spacing="-0.15" clip-path="url(#lc323)">MIS 6</text>
<text x="277.4" y="24.69" font-size="7.2" text-anchor="middle" fill="#111" stroke="#111" stroke-width="0.12">b)</text>
<text x="339" y="48.7" font-size="7.5" text-anchor="middle" fill="#111" stroke="#111" stroke-width="0.12">115kry</text>
<text x="320.7" y="62.7" font-size="7.5" text-anchor="middle" fill="#111" stroke="#111" stroke-width="0.12">114kry</text>
<text x="320.9" y="75.7" font-size="7.5" text-anchor="middle" fill="#111" stroke="#111" stroke-width="0.12">113kry</text>
<text x="437.1" y="45.7" font-size="7.5" text-anchor="middle" fill="#111" stroke="#111" stroke-width="0.12">126kry</text>
<text x="444.1" y="55.9" font-size="7.5" text-anchor="middle" fill="#111" stroke="#111" stroke-width="0.12">127kry</text>
<text x="433.6" y="88.4" font-size="7.5" text-anchor="middle" fill="#111" stroke="#111" stroke-width="0.12">128kry</text>
<text x="366.34" y="79.07" font-size="7.5" text-anchor="middle" fill="#2a7fd5" stroke="#2a7fd5" stroke-width="0.16" transform="rotate(-40 366.34 79.07)">Y = 0.71 * X + 0.07</text>
<text x="372.24" y="86.77" font-size="7.5" text-anchor="middle" fill="#2a7fd5" stroke="#2a7fd5" stroke-width="0.16" transform="rotate(-40 372.24 86.77)">n=149, R<tspan font-size="4.8" dy="-2.6">2</tspan><tspan dy="2.6">=</tspan>0.58</text>
<text x="371.69" y="141.48" font-size="7.5" text-anchor="middle" fill="#111" stroke="#111" stroke-width="0.12" transform="rotate(-36 371.69 141.48)">Y = 0.66 * X + 0.01</text>
<text x="377.29" y="149.68" font-size="7.5" text-anchor="middle" fill="#111" stroke="#111" stroke-width="0.12" transform="rotate(-36 377.29 149.68)">n=92, R<tspan font-size="4.8" dy="-2.6">2</tspan><tspan dy="2.6">=</tspan>0.91</text>
<text x="383.19" y="157.18" font-size="7.5" text-anchor="middle" fill="#111" stroke="#111" stroke-width="0.12" transform="rotate(-36 383.19 157.18)">(excluding MIS 5)</text>
<path d="M490 0.6 H683.3 V214.5" fill="none" stroke="#111" stroke-width="1.15"/>
<line x1="490" y1="0.1" x2="490" y2="214.5" stroke="#111" stroke-width="1.2"/>
<line x1="489.4" y1="214.7" x2="683.85" y2="214.7" stroke="#111" stroke-width="1.5"/>
<line x1="485.7" y1="187.5" x2="490" y2="187.5" stroke="#111" stroke-width="1.1"/>
<text x="483.8" y="190.25" font-size="7.5" text-anchor="end" fill="#111" stroke="#111" stroke-width="0.12">-8</text>
<line x1="485.7" y1="130.1" x2="490" y2="130.1" stroke="#111" stroke-width="1.1"/>
<text x="483.8" y="132.85" font-size="7.5" text-anchor="end" fill="#111" stroke="#111" stroke-width="0.12">-4</text>
<line x1="485.7" y1="72.8" x2="490" y2="72.8" stroke="#111" stroke-width="1.1"/>
<text x="483.8" y="75.55" font-size="7.5" text-anchor="end" fill="#111" stroke="#111" stroke-width="0.12">0</text>
<line x1="485.7" y1="15.4" x2="490" y2="15.4" stroke="#111" stroke-width="1.1"/>
<text x="483.8" y="18.15" font-size="7.5" text-anchor="end" fill="#111" stroke="#111" stroke-width="0.12">4</text>
<line x1="489.9" y1="214.5" x2="489.9" y2="218.8" stroke="#111" stroke-width="1.1"/>
<text x="489.9" y="230.1" font-size="7.5" text-anchor="middle" fill="#111" stroke="#111" stroke-width="0.12">0</text>
<line x1="528.6" y1="214.5" x2="528.6" y2="218.8" stroke="#111" stroke-width="1.1"/>
<text x="528.6" y="230.1" font-size="7.5" text-anchor="middle" fill="#111" stroke="#111" stroke-width="0.12">0.2</text>
<line x1="567.3" y1="214.5" x2="567.3" y2="218.8" stroke="#111" stroke-width="1.1"/>
<text x="567.3" y="230.1" font-size="7.5" text-anchor="middle" fill="#111" stroke="#111" stroke-width="0.12">0.4</text>
<line x1="606" y1="214.5" x2="606" y2="218.8" stroke="#111" stroke-width="1.1"/>
<text x="606" y="230.1" font-size="7.5" text-anchor="middle" fill="#111" stroke="#111" stroke-width="0.12">0.6</text>
<line x1="644.7" y1="214.5" x2="644.7" y2="218.8" stroke="#111" stroke-width="1.1"/>
<text x="644.7" y="230.1" font-size="7.5" text-anchor="middle" fill="#111" stroke="#111" stroke-width="0.12">0.8</text>
<line x1="683.4" y1="214.5" x2="683.4" y2="218.8" stroke="#111" stroke-width="1.1"/>
<text x="683.4" y="230.1" font-size="7.5" text-anchor="middle" fill="#111" stroke="#111" stroke-width="0.12">1</text>
<text x="471.5" y="108.2" font-size="7.5" text-anchor="middle" fill="#111" stroke="#111" stroke-width="0.12" transform="rotate(-90 471.5 108.2)">ATS (°C)</text>
<text x="586.8" y="239.1" font-size="7.5" text-anchor="middle" fill="#111" stroke="#111" stroke-width="0.12">Subarctic Pacific EP stack</text>
<line x1="506.5" y1="192.7" x2="664.4" y2="28.6" stroke="#111" stroke-width="1.2"/>
<circle cx="561.1" cy="127.2" r="3.1" fill="#4b4b4b" stroke="#fff" stroke-width="0.45"/>
<circle cx="561.5" cy="163.2" r="3.1" fill="#4b4b4b" stroke="#fff" stroke-width="0.45"/>
<circle cx="560.7" cy="179.4" r="3.1" fill="#4b4b4b" stroke="#fff" stroke-width="0.45"/>
<circle cx="506.4" cy="177.6" r="3.1" fill="#4b4b4b" stroke="#fff" stroke-width="0.45"/>
<circle cx="510.6" cy="180.7" r="3.1" fill="#4b4b4b" stroke="#fff" stroke-width="0.45"/>
<circle cx="521.7" cy="188.3" r="3.1" fill="#4b4b4b" stroke="#fff" stroke-width="0.45"/>
<circle cx="521.7" cy="192.3" r="3.1" fill="#4b4b4b" stroke="#fff" stroke-width="0.45"/>
<circle cx="533.3" cy="192.5" r="3.1" fill="#4b4b4b" stroke="#fff" stroke-width="0.45"/>
<circle cx="544.8" cy="191" r="3.1" fill="#4b4b4b" stroke="#fff" stroke-width="0.45"/>
<circle cx="529.6" cy="204.2" r="3.1" fill="#4b4b4b" stroke="#fff" stroke-width="0.45"/>
<circle cx="581.5" cy="109.3" r="3.1" fill="#7bb0df" stroke="#fff" stroke-width="0.45"/>
<circle cx="588" cy="114.4" r="3.1" fill="#7bb0df" stroke="#fff" stroke-width="0.45"/>
<circle cx="565.6" cy="118" r="3.1" fill="#7bb0df" stroke="#fff" stroke-width="0.45"/>
<circle cx="563.6" cy="128.2" r="3.1" fill="#7bb0df" stroke="#fff" stroke-width="0.45"/>
<circle cx="552.4" cy="172.3" r="3.1" fill="#7bb0df" stroke="#fff" stroke-width="0.45"/>
<circle cx="537.3" cy="185" r="3.1" fill="#7bb0df" stroke="#fff" stroke-width="0.45"/>
<circle cx="607.2" cy="62.6" r="3.1" fill="#7bb0df" stroke="#fff" stroke-width="0.45"/>
<circle cx="605.4" cy="79.3" r="3.1" fill="#7bb0df" stroke="#fff" stroke-width="0.45"/>
<circle cx="627.1" cy="59.9" r="3.1" fill="#fb8df3" stroke="#fff" stroke-width="0.45"/>
<circle cx="631.6" cy="63.7" r="3.1" fill="#fb8df3" stroke="#fff" stroke-width="0.45"/>
<circle cx="638.3" cy="71.5" r="3.1" fill="#fb8df3" stroke="#fff" stroke-width="0.45"/>
<circle cx="632.3" cy="80" r="3.1" fill="#fb8df3" stroke="#fff" stroke-width="0.45"/>
<circle cx="658" cy="62.1" r="3.1" fill="#fb8df3" stroke="#fff" stroke-width="0.45"/>
<circle cx="649.9" cy="71.1" r="3.1" fill="#fb8df3" stroke="#fff" stroke-width="0.45"/>
<circle cx="656.2" cy="73.8" r="3.1" fill="#fb8df3" stroke="#fff" stroke-width="0.45"/>
<circle cx="660" cy="71.1" r="3.1" fill="#fb8df3" stroke="#fff" stroke-width="0.45"/>
<circle cx="662.9" cy="74.9" r="3.1" fill="#fb8df3" stroke="#fff" stroke-width="0.45"/>
<circle cx="664.4" cy="73.8" r="3.1" fill="#fb8df3" stroke="#fff" stroke-width="0.45"/>
<circle cx="524.1" cy="182.8" r="3.1" fill="#9b9a62" stroke="#fff" stroke-width="0.45"/>
<circle cx="518.4" cy="197.3" r="3.1" fill="#9b9a62" stroke="#fff" stroke-width="0.45"/>
<circle cx="516.4" cy="200.9" r="3.1" fill="#9b9a62" stroke="#fff" stroke-width="0.45"/>
<circle cx="522.4" cy="200.2" r="3.1" fill="#9b9a62" stroke="#fff" stroke-width="0.45"/>
<circle cx="517.1" cy="204.2" r="3.1" fill="#9b9a62" stroke="#fff" stroke-width="0.45"/>
<circle cx="523.7" cy="206.1" r="3.1" fill="#9b9a62" stroke="#fff" stroke-width="0.45"/>
<circle cx="527" cy="204.2" r="3.1" fill="#9b9a62" stroke="#fff" stroke-width="0.45"/>
<circle cx="541.8" cy="144.5" r="3.1" fill="#e2d66e" stroke="#fff" stroke-width="0.45"/>
<circle cx="540.8" cy="150.4" r="3.1" fill="#e2d66e" stroke="#fff" stroke-width="0.45"/>
<circle cx="544.9" cy="156.1" r="3.1" fill="#e2d66e" stroke="#fff" stroke-width="0.45"/>
<circle cx="523.5" cy="158.4" r="3.1" fill="#e2d66e" stroke="#fff" stroke-width="0.45"/>
<circle cx="528.8" cy="159.2" r="3.1" fill="#e2d66e" stroke="#fff" stroke-width="0.45"/>
<circle cx="541.8" cy="165.2" r="3.1" fill="#e2d66e" stroke="#fff" stroke-width="0.45"/>
<circle cx="544.9" cy="167.6" r="3.1" fill="#e2d66e" stroke="#fff" stroke-width="0.45"/>
<circle cx="543.9" cy="172.9" r="3.1" fill="#e2d66e" stroke="#fff" stroke-width="0.45"/>
<circle cx="526.6" cy="176.4" r="3.1" fill="#e2d66e" stroke="#fff" stroke-width="0.45"/>
<circle cx="532.5" cy="177.8" r="3.1" fill="#e2d66e" stroke="#fff" stroke-width="0.45"/>
<circle cx="537" cy="177.8" r="3.1" fill="#e2d66e" stroke="#fff" stroke-width="0.45"/>
<circle cx="533.7" cy="185.1" r="3.1" fill="#e2d66e" stroke="#fff" stroke-width="0.45"/>
<circle cx="541.5" cy="164.8" r="3.1" fill="#e2d66e" stroke="#fff" stroke-width="0.45"/>
<circle cx="545.5" cy="167.4" r="3.1" fill="#e2d66e" stroke="#fff" stroke-width="0.45"/>
<circle cx="542.2" cy="169.2" r="3.1" fill="#e2d66e" stroke="#fff" stroke-width="0.45"/>
<circle cx="543.5" cy="172.7" r="3.1" fill="#e2d66e" stroke="#fff" stroke-width="0.45"/>
<circle cx="526.3" cy="176.2" r="3.1" fill="#e2d66e" stroke="#fff" stroke-width="0.45"/>
<circle cx="534.9" cy="181" r="3.1" fill="#e2d66e" stroke="#fff" stroke-width="0.45"/>
<circle cx="533.6" cy="185.4" r="3.1" fill="#e2d66e" stroke="#fff" stroke-width="0.45"/>
<circle cx="534.3" cy="189" r="3.1" fill="#e2d66e" stroke="#fff" stroke-width="0.45"/>
<circle cx="528.3" cy="193.6" r="3.1" fill="#e2d66e" stroke="#fff" stroke-width="0.45"/>
<circle cx="531.3" cy="195.6" r="3.1" fill="#e2d66e" stroke="#fff" stroke-width="0.45"/>
<circle cx="525.7" cy="199.9" r="3.1" fill="#e2d66e" stroke="#fff" stroke-width="0.45"/>
<circle cx="544.8" cy="156.3" r="3.1" fill="#e2d66e" stroke="#fff" stroke-width="0.45"/>
<circle cx="537.8" cy="105.2" r="3.1" fill="#e3b4a8" stroke="#fff" stroke-width="0.45"/>
<circle cx="537.2" cy="107.9" r="3.1" fill="#e3b4a8" stroke="#fff" stroke-width="0.45"/>
<circle cx="555.7" cy="116" r="3.1" fill="#e3b4a8" stroke="#fff" stroke-width="0.45"/>
<circle cx="566.2" cy="121.5" r="3.1" fill="#e3b4a8" stroke="#fff" stroke-width="0.45"/>
<circle cx="569.3" cy="125" r="3.1" fill="#e3b4a8" stroke="#fff" stroke-width="0.45"/>
<circle cx="539.4" cy="118.5" r="3.1" fill="#e3b4a8" stroke="#fff" stroke-width="0.45"/>
<circle cx="543.9" cy="122.1" r="3.1" fill="#e3b4a8" stroke="#fff" stroke-width="0.45"/>
<circle cx="536.7" cy="122.5" r="3.1" fill="#e3b4a8" stroke="#fff" stroke-width="0.45"/>
<circle cx="534.7" cy="124.6" r="3.1" fill="#e3b4a8" stroke="#fff" stroke-width="0.45"/>
<circle cx="533.1" cy="126.6" r="3.1" fill="#e3b4a8" stroke="#fff" stroke-width="0.45"/>
<circle cx="540.8" cy="125.6" r="3.1" fill="#e3b4a8" stroke="#fff" stroke-width="0.45"/>
<circle cx="539.8" cy="128.6" r="3.1" fill="#e3b4a8" stroke="#fff" stroke-width="0.45"/>
<circle cx="549.3" cy="126.2" r="3.1" fill="#e3b4a8" stroke="#fff" stroke-width="0.45"/>
<circle cx="551" cy="129.6" r="3.1" fill="#e3b4a8" stroke="#fff" stroke-width="0.45"/>
<circle cx="553.6" cy="129.6" r="3.1" fill="#e3b4a8" stroke="#fff" stroke-width="0.45"/>
<circle cx="536.3" cy="132.7" r="3.1" fill="#e3b4a8" stroke="#fff" stroke-width="0.45"/>
<circle cx="534.7" cy="135.1" r="3.1" fill="#e3b4a8" stroke="#fff" stroke-width="0.45"/>
<circle cx="540.8" cy="138.2" r="3.1" fill="#e3b4a8" stroke="#fff" stroke-width="0.45"/>
<circle cx="533.1" cy="139.8" r="3.1" fill="#e3b4a8" stroke="#fff" stroke-width="0.45"/>
<circle cx="531.7" cy="143.3" r="3.1" fill="#e3b4a8" stroke="#fff" stroke-width="0.45"/>
<circle cx="536.7" cy="145.9" r="3.1" fill="#e3b4a8" stroke="#fff" stroke-width="0.45"/>
<circle cx="555" cy="148.3" r="3.1" fill="#e3b4a8" stroke="#fff" stroke-width="0.45"/>
<circle cx="552" cy="146.9" r="3.1" fill="#e3b4a8" stroke="#fff" stroke-width="0.45"/>
<circle cx="557.1" cy="153.4" r="3.1" fill="#e3b4a8" stroke="#fff" stroke-width="0.45"/>
<circle cx="551" cy="155" r="3.1" fill="#e3b4a8" stroke="#fff" stroke-width="0.45"/>
<circle cx="537.2" cy="151" r="3.1" fill="#e3b4a8" stroke="#fff" stroke-width="0.45"/>
<circle cx="553" cy="164.2" r="3.1" fill="#e3b4a8" stroke="#fff" stroke-width="0.45"/>
<circle cx="550.8" cy="155.9" r="3.1" fill="#e3b4a8" stroke="#fff" stroke-width="0.45"/>
<circle cx="556.7" cy="153.3" r="3.1" fill="#e3b4a8" stroke="#fff" stroke-width="0.45"/>
<circle cx="537.6" cy="152" r="3.1" fill="#e3b4a8" stroke="#fff" stroke-width="0.45"/>
<circle cx="538.2" cy="165.2" r="3.1" fill="#e3b4a8" stroke="#fff" stroke-width="0.45"/>
<circle cx="567.1" cy="122.5" r="3.1" fill="#e3b4a8" stroke="#fff" stroke-width="0.45"/>
<circle cx="569.8" cy="125.6" r="3.1" fill="#e3b4a8" stroke="#fff" stroke-width="0.45"/>
<circle cx="548.9" cy="142.4" r="3.1" fill="#a67a9d" stroke="#fff" stroke-width="0.45"/>
<circle cx="545.9" cy="151" r="3.1" fill="#a67a9d" stroke="#fff" stroke-width="0.45"/>
<circle cx="543.3" cy="154.6" r="3.1" fill="#a67a9d" stroke="#fff" stroke-width="0.45"/>
<circle cx="531.7" cy="156.2" r="3.1" fill="#a67a9d" stroke="#fff" stroke-width="0.45"/>
<circle cx="539.6" cy="157.7" r="3.1" fill="#a67a9d" stroke="#fff" stroke-width="0.45"/>
<circle cx="535.6" cy="161.7" r="3.1" fill="#a67a9d" stroke="#fff" stroke-width="0.45"/>
<circle cx="526.3" cy="166.6" r="3.1" fill="#a67a9d" stroke="#fff" stroke-width="0.45"/>
<circle cx="520.9" cy="171.5" r="3.1" fill="#a67a9d" stroke="#fff" stroke-width="0.45"/>
<circle cx="536.3" cy="172.4" r="3.1" fill="#a67a9d" stroke="#fff" stroke-width="0.45"/>
<circle cx="528.5" cy="182.5" r="3.1" fill="#a67a9d" stroke="#fff" stroke-width="0.45"/>
<circle cx="515.4" cy="184.5" r="3.1" fill="#a67a9d" stroke="#fff" stroke-width="0.45"/>
<circle cx="514.8" cy="187.6" r="3.1" fill="#a67a9d" stroke="#fff" stroke-width="0.45"/>
<circle cx="525" cy="187.6" r="3.1" fill="#a67a9d" stroke="#fff" stroke-width="0.45"/>
<circle cx="546.1" cy="151.6" r="3.1" fill="#a67a9d" stroke="#fff" stroke-width="0.45"/>
<circle cx="511.1" cy="191.6" r="3.1" fill="#a67a9d" stroke="#fff" stroke-width="0.45"/>
<circle cx="523" cy="190.3" r="3.1" fill="#a67a9d" stroke="#fff" stroke-width="0.45"/>
<circle cx="587.2" cy="107.3" r="3.1" fill="#d45a2c" stroke="#fff" stroke-width="0.45"/>
<circle cx="576.4" cy="122.1" r="3.1" fill="#d45a2c" stroke="#fff" stroke-width="0.45"/>
<circle cx="560.1" cy="133.3" r="3.1" fill="#d45a2c" stroke="#fff" stroke-width="0.45"/>
<circle cx="558.7" cy="143.3" r="3.1" fill="#d45a2c" stroke="#fff" stroke-width="0.45"/>
<circle cx="650.6" cy="27.9" r="3.1" fill="#d45a2c" stroke="#fff" stroke-width="0.45"/>
<circle cx="659.1" cy="46.3" r="3.1" fill="#d45a2c" stroke="#fff" stroke-width="0.45"/>
<circle cx="655.1" cy="55.2" r="3.1" fill="#d45a2c" stroke="#fff" stroke-width="0.45"/>
<circle cx="614.8" cy="53.6" r="3.1" fill="#d45a2c" stroke="#fff" stroke-width="0.45"/>
<circle cx="622" cy="52.5" r="3.1" fill="#d45a2c" stroke="#fff" stroke-width="0.45"/>
<circle cx="621.1" cy="63.3" r="3.1" fill="#d45a2c" stroke="#fff" stroke-width="0.45"/>
<circle cx="626.7" cy="65.5" r="3.1" fill="#d45a2c" stroke="#fff" stroke-width="0.45"/>
<circle cx="601.4" cy="66.6" r="3.1" fill="#d45a2c" stroke="#fff" stroke-width="0.45"/>
<circle cx="605.4" cy="68.8" r="3.1" fill="#d45a2c" stroke="#fff" stroke-width="0.45"/>
<circle cx="601" cy="81.1" r="3.1" fill="#d45a2c" stroke="#fff" stroke-width="0.45"/>
<circle cx="596.5" cy="94.3" r="3.1" fill="#d45a2c" stroke="#fff" stroke-width="0.45"/>
<circle cx="562.8" cy="109.3" r="3.1" fill="#1c61ad" stroke="#fff" stroke-width="0.45"/>
<circle cx="622.6" cy="29.7" r="3.1" fill="#1c61ad" stroke="#fff" stroke-width="0.45"/>
<circle cx="597.6" cy="35.1" r="3.1" fill="#1c61ad" stroke="#fff" stroke-width="0.45"/>
<circle cx="584.2" cy="54.8" r="3.1" fill="#1c61ad" stroke="#fff" stroke-width="0.45"/>
<circle cx="573.9" cy="82.3" r="3.1" fill="#1c61ad" stroke="#fff" stroke-width="0.45"/>
<rect x="645" y="91.6" width="38.3" height="122.9" fill="#fff" stroke="#222" stroke-width="0.8"/>
<clipPath id="lc509"><rect x="645" y="91.6" width="37.7" height="122.9"/></clipPath>
<circle cx="648.8" cy="98.2" r="3.05" fill="#fb8df3"/>
<text x="659.6" y="100.65" font-size="5.7" fill="#2a2a2a" letter-spacing="-0.15" clip-path="url(#lc509)">Holocene</text>
<circle cx="648.8" cy="111.98" r="3.05" fill="#7bb0df"/>
<text x="659.6" y="114.43" font-size="5.7" fill="#2a2a2a" letter-spacing="-0.15" clip-path="url(#lc509)">T1</text>
<circle cx="648.8" cy="125.76" r="3.05" fill="#9b9a62"/>
<text x="659.6" y="128.21" font-size="5.7" fill="#2a2a2a" letter-spacing="-0.15" clip-path="url(#lc509)">MIS 2</text>
<circle cx="648.8" cy="139.54" r="3.05" fill="#e2d66e"/>
<text x="659.6" y="141.99" font-size="5.7" fill="#2a2a2a" letter-spacing="-0.15" clip-path="url(#lc509)">MIS 3</text>
<circle cx="648.8" cy="153.32" r="3.05" fill="#a67a9d"/>
<text x="659.6" y="155.77" font-size="5.7" fill="#2a2a2a" letter-spacing="-0.15" clip-path="url(#lc509)">MIS 4</text>
<circle cx="648.8" cy="167.1" r="3.05" fill="#e3b4a8"/>
<text x="659.6" y="169.55" font-size="5.7" fill="#2a2a2a" letter-spacing="-0.15" clip-path="url(#lc509)">MIS 5</text>
<circle cx="648.8" cy="180.88" r="3.05" fill="#d45a2c"/>
<text x="659.6" y="183.33" font-size="5.7" fill="#2a2a2a" letter-spacing="-0.15" clip-path="url(#lc509)">MIS 5e</text>
<circle cx="648.8" cy="194.66" r="3.05" fill="#1c61ad"/>
<text x="659.6" y="197.11" font-size="5.7" fill="#2a2a2a" letter-spacing="-0.15" clip-path="url(#lc509)">T2</text>
<circle cx="648.8" cy="208.44" r="3.05" fill="#4b4b4b"/>
<text x="659.6" y="210.89" font-size="5.7" fill="#2a2a2a" letter-spacing="-0.15" clip-path="url(#lc509)">MIS 6</text>
<text x="507.9" y="24.39" font-size="7.2" text-anchor="middle" fill="#111" stroke="#111" stroke-width="0.12">c)</text>
<text x="603.51" y="123.51" font-size="7.5" text-anchor="middle" fill="#111" stroke="#111" stroke-width="0.12" transform="rotate(-42 603.51 123.51)">Y = 14.04 * X - 9.58</text>
<text x="609.71" y="130.61" font-size="7.5" text-anchor="middle" fill="#111" stroke="#111" stroke-width="0.12" transform="rotate(-42 609.71 130.61)">n=149, R<tspan font-size="4.8" dy="-2.6">2</tspan><tspan dy="2.6">=</tspan>0.77</text>
<path d="M31.8 251.7 H225.3 V465.8" fill="none" stroke="#111" stroke-width="1.15"/>
<line x1="31.8" y1="251.2" x2="31.8" y2="465.8" stroke="#111" stroke-width="1.2"/>
<line x1="31.2" y1="466" x2="225.85" y2="466" stroke="#111" stroke-width="1.5"/>
<line x1="27.5" y1="457.6" x2="31.8" y2="457.6" stroke="#111" stroke-width="1.1"/>
<text x="25.6" y="460.35" font-size="7.5" text-anchor="end" fill="#111" stroke="#111" stroke-width="0.12">180</text>
<line x1="27.5" y1="423.3" x2="31.8" y2="423.3" stroke="#111" stroke-width="1.1"/>
<text x="25.6" y="426.05" font-size="7.5" text-anchor="end" fill="#111" stroke="#111" stroke-width="0.12">200</text>
<line x1="27.5" y1="389" x2="31.8" y2="389" stroke="#111" stroke-width="1.1"/>
<text x="25.6" y="391.75" font-size="7.5" text-anchor="end" fill="#111" stroke="#111" stroke-width="0.12">220</text>
<line x1="27.5" y1="354.7" x2="31.8" y2="354.7" stroke="#111" stroke-width="1.1"/>
<text x="25.6" y="357.45" font-size="7.5" text-anchor="end" fill="#111" stroke="#111" stroke-width="0.12">240</text>
<line x1="27.5" y1="320.4" x2="31.8" y2="320.4" stroke="#111" stroke-width="1.1"/>
<text x="25.6" y="323.15" font-size="7.5" text-anchor="end" fill="#111" stroke="#111" stroke-width="0.12">260</text>
<line x1="27.5" y1="286.1" x2="31.8" y2="286.1" stroke="#111" stroke-width="1.1"/>
<text x="25.6" y="288.85" font-size="7.5" text-anchor="end" fill="#111" stroke="#111" stroke-width="0.12">280</text>
<line x1="27.5" y1="251.8" x2="31.8" y2="251.8" stroke="#111" stroke-width="1.1"/>
<text x="25.6" y="254.55" font-size="7.5" text-anchor="end" fill="#111" stroke="#111" stroke-width="0.12">300</text>
<line x1="31.6" y1="465.8" x2="31.6" y2="470.1" stroke="#111" stroke-width="1.1"/>
<text x="31.6" y="481.4" font-size="7.5" text-anchor="middle" fill="#111" stroke="#111" stroke-width="0.12">-10</text>
<line x1="57.1" y1="465.8" x2="57.1" y2="470.1" stroke="#111" stroke-width="1.1"/>
<text x="57.1" y="481.4" font-size="7.5" text-anchor="middle" fill="#111" stroke="#111" stroke-width="0.12">-8</text>
<line x1="82.6" y1="465.8" x2="82.6" y2="470.1" stroke="#111" stroke-width="1.1"/>
<text x="82.6" y="481.4" font-size="7.5" text-anchor="middle" fill="#111" stroke="#111" stroke-width="0.12">-6</text>
<line x1="108.1" y1="465.8" x2="108.1" y2="470.1" stroke="#111" stroke-width="1.1"/>
<text x="108.1" y="481.4" font-size="7.5" text-anchor="middle" fill="#111" stroke="#111" stroke-width="0.12">-4</text>
<line x1="133.6" y1="465.8" x2="133.6" y2="470.1" stroke="#111" stroke-width="1.1"/>
<text x="133.6" y="481.4" font-size="7.5" text-anchor="middle" fill="#111" stroke="#111" stroke-width="0.12">-2</text>
<line x1="159.1" y1="465.8" x2="159.1" y2="470.1" stroke="#111" stroke-width="1.1"/>
<text x="159.1" y="481.4" font-size="7.5" text-anchor="middle" fill="#111" stroke="#111" stroke-width="0.12">0</text>
<line x1="184.6" y1="465.8" x2="184.6" y2="470.1" stroke="#111" stroke-width="1.1"/>
<text x="184.6" y="481.4" font-size="7.5" text-anchor="middle" fill="#111" stroke="#111" stroke-width="0.12">2</text>
<line x1="210.1" y1="465.8" x2="210.1" y2="470.1" stroke="#111" stroke-width="1.1"/>
<text x="210.1" y="481.4" font-size="7.5" text-anchor="middle" fill="#111" stroke="#111" stroke-width="0.12">4</text>
<text x="6.6" y="358.5" font-size="7.5" text-anchor="middle" fill="#111" stroke="#111" stroke-width="0.12" transform="rotate(-90 6.6 358.5)">CO<tspan font-size="5" dy="1.8">2</tspan><tspan dy="-1.8"> (ppmv)</tspan></text>
<text x="128.5" y="490.6" font-size="7.5" text-anchor="middle" fill="#111" stroke="#111" stroke-width="0.12">ATS (°C)</text>
<line x1="48" y1="442" x2="196.3" y2="285.6" stroke="#111" stroke-width="1.2"/>
<circle cx="109.6" cy="400.2" r="3.1" fill="#4b4b4b" stroke="#fff" stroke-width="0.45"/>
<circle cx="41.8" cy="430.9" r="3.1" fill="#4b4b4b" stroke="#fff" stroke-width="0.45"/>
<circle cx="53.5" cy="428.6" r="3.1" fill="#4b4b4b" stroke="#fff" stroke-width="0.45"/>
<circle cx="59.3" cy="432.9" r="3.1" fill="#4b4b4b" stroke="#fff" stroke-width="0.45"/>
<circle cx="51.5" cy="435.4" r="3.1" fill="#4b4b4b" stroke="#fff" stroke-width="0.45"/>
<circle cx="49.2" cy="450.1" r="3.1" fill="#4b4b4b" stroke="#fff" stroke-width="0.45"/>
<circle cx="152.7" cy="334" r="3.1" fill="#7bb0df" stroke="#fff" stroke-width="0.45"/>
<circle cx="121.7" cy="360.2" r="3.1" fill="#7bb0df" stroke="#fff" stroke-width="0.45"/>
<circle cx="126.3" cy="364.2" r="3.1" fill="#7bb0df" stroke="#fff" stroke-width="0.45"/>
<circle cx="118.3" cy="373" r="3.1" fill="#7bb0df" stroke="#fff" stroke-width="0.45"/>
<circle cx="109.4" cy="385.8" r="3.1" fill="#7bb0df" stroke="#fff" stroke-width="0.45"/>
<circle cx="59" cy="450.5" r="3.1" fill="#7bb0df" stroke="#fff" stroke-width="0.45"/>
<circle cx="160.5" cy="287.2" r="3.1" fill="#fb8df3" stroke="#fff" stroke-width="0.45"/>
<circle cx="158.4" cy="290.7" r="3.1" fill="#fb8df3" stroke="#fff" stroke-width="0.45"/>
<circle cx="157.7" cy="293.5" r="3.1" fill="#fb8df3" stroke="#fff" stroke-width="0.45"/>
<circle cx="156.7" cy="296.4" r="3.1" fill="#fb8df3" stroke="#fff" stroke-width="0.45"/>
<circle cx="157.4" cy="304.5" r="3.1" fill="#fb8df3" stroke="#fff" stroke-width="0.45"/>
<circle cx="167.9" cy="308.6" r="3.1" fill="#fb8df3" stroke="#fff" stroke-width="0.45"/>
<circle cx="170" cy="313" r="3.1" fill="#fb8df3" stroke="#fff" stroke-width="0.45"/>
<circle cx="166.7" cy="315.8" r="3.1" fill="#fb8df3" stroke="#fff" stroke-width="0.45"/>
<circle cx="152.6" cy="319.5" r="3.1" fill="#fb8df3" stroke="#fff" stroke-width="0.45"/>
<circle cx="159.9" cy="323.9" r="3.1" fill="#fb8df3" stroke="#fff" stroke-width="0.45"/>
<circle cx="40.2" cy="444.2" r="3.1" fill="#9b9a62" stroke="#fff" stroke-width="0.45"/>
<circle cx="45.7" cy="446.2" r="3.1" fill="#9b9a62" stroke="#fff" stroke-width="0.45"/>
<circle cx="41.4" cy="450.1" r="3.1" fill="#9b9a62" stroke="#fff" stroke-width="0.45"/>
<circle cx="44.7" cy="451.1" r="3.1" fill="#9b9a62" stroke="#fff" stroke-width="0.45"/>
<circle cx="47.6" cy="456.9" r="3.1" fill="#9b9a62" stroke="#fff" stroke-width="0.45"/>
<circle cx="88.2" cy="395.7" r="3.1" fill="#e2d66e" stroke="#fff" stroke-width="0.45"/>
<circle cx="93.4" cy="386.2" r="3.1" fill="#e2d66e" stroke="#fff" stroke-width="0.45"/>
<circle cx="73" cy="403.2" r="3.1" fill="#e2d66e" stroke="#fff" stroke-width="0.45"/>
<circle cx="90.6" cy="405.5" r="3.1" fill="#e2d66e" stroke="#fff" stroke-width="0.45"/>
<circle cx="66.8" cy="413.9" r="3.1" fill="#e2d66e" stroke="#fff" stroke-width="0.45"/>
<circle cx="76.5" cy="412" r="3.1" fill="#e2d66e" stroke="#fff" stroke-width="0.45"/>
<circle cx="82.4" cy="415.9" r="3.1" fill="#e2d66e" stroke="#fff" stroke-width="0.45"/>
<circle cx="70.1" cy="416.9" r="3.1" fill="#e2d66e" stroke="#fff" stroke-width="0.45"/>
<circle cx="73" cy="416.9" r="3.1" fill="#e2d66e" stroke="#fff" stroke-width="0.45"/>
<circle cx="76.9" cy="416.5" r="3.1" fill="#e2d66e" stroke="#fff" stroke-width="0.45"/>
<circle cx="63.3" cy="421.8" r="3.1" fill="#e2d66e" stroke="#fff" stroke-width="0.45"/>
<circle cx="69.1" cy="422.7" r="3.1" fill="#e2d66e" stroke="#fff" stroke-width="0.45"/>
<circle cx="74.6" cy="421.2" r="3.1" fill="#e2d66e" stroke="#fff" stroke-width="0.45"/>
<circle cx="50.2" cy="429.6" r="3.1" fill="#e2d66e" stroke="#fff" stroke-width="0.45"/>
<circle cx="55.4" cy="432.1" r="3.1" fill="#e2d66e" stroke="#fff" stroke-width="0.45"/>
<circle cx="66.2" cy="430.5" r="3.1" fill="#e2d66e" stroke="#fff" stroke-width="0.45"/>
<circle cx="63.3" cy="435.4" r="3.1" fill="#e2d66e" stroke="#fff" stroke-width="0.45"/>
<circle cx="46.6" cy="438.4" r="3.1" fill="#e2d66e" stroke="#fff" stroke-width="0.45"/>
<circle cx="65.2" cy="440.7" r="3.1" fill="#e2d66e" stroke="#fff" stroke-width="0.45"/>
<circle cx="53.5" cy="441.3" r="3.1" fill="#e2d66e" stroke="#fff" stroke-width="0.45"/>
<circle cx="50.9" cy="443.2" r="3.1" fill="#e2d66e" stroke="#fff" stroke-width="0.45"/>
<circle cx="92" cy="320.1" r="3.1" fill="#e3b4a8" stroke="#fff" stroke-width="0.45"/>
<circle cx="87.9" cy="326.2" r="3.1" fill="#e3b4a8" stroke="#fff" stroke-width="0.45"/>
<circle cx="108.2" cy="325.6" r="3.1" fill="#e3b4a8" stroke="#fff" stroke-width="0.45"/>
<circle cx="128.5" cy="338.3" r="3.1" fill="#e3b4a8" stroke="#fff" stroke-width="0.45"/>
<circle cx="129.9" cy="344" r="3.1" fill="#e3b4a8" stroke="#fff" stroke-width="0.45"/>
<circle cx="77.4" cy="345.9" r="3.1" fill="#e3b4a8" stroke="#fff" stroke-width="0.45"/>
<circle cx="84.2" cy="344.2" r="3.1" fill="#e3b4a8" stroke="#fff" stroke-width="0.45"/>
<circle cx="85.3" cy="347.1" r="3.1" fill="#e3b4a8" stroke="#fff" stroke-width="0.45"/>
<circle cx="96.7" cy="344.2" r="3.1" fill="#e3b4a8" stroke="#fff" stroke-width="0.45"/>
<circle cx="95.6" cy="349.9" r="3.1" fill="#e3b4a8" stroke="#fff" stroke-width="0.45"/>
<circle cx="83.5" cy="356.3" r="3.1" fill="#e3b4a8" stroke="#fff" stroke-width="0.45"/>
<circle cx="87.3" cy="354.9" r="3.1" fill="#e3b4a8" stroke="#fff" stroke-width="0.45"/>
<circle cx="108.4" cy="347.1" r="3.1" fill="#e3b4a8" stroke="#fff" stroke-width="0.45"/>
<circle cx="107.7" cy="344.2" r="3.1" fill="#e3b4a8" stroke="#fff" stroke-width="0.45"/>
<circle cx="116.2" cy="344.9" r="3.1" fill="#e3b4a8" stroke="#fff" stroke-width="0.45"/>
<circle cx="116.9" cy="349.9" r="3.1" fill="#e3b4a8" stroke="#fff" stroke-width="0.45"/>
<circle cx="111.2" cy="352" r="3.1" fill="#e3b4a8" stroke="#fff" stroke-width="0.45"/>
<circle cx="109.1" cy="354.2" r="3.1" fill="#e3b4a8" stroke="#fff" stroke-width="0.45"/>
<circle cx="109.8" cy="357" r="3.1" fill="#e3b4a8" stroke="#fff" stroke-width="0.45"/>
<circle cx="115.5" cy="356.3" r="3.1" fill="#e3b4a8" stroke="#fff" stroke-width="0.45"/>
<circle cx="120.5" cy="355.6" r="3.1" fill="#e3b4a8" stroke="#fff" stroke-width="0.45"/>
<circle cx="77.1" cy="368.7" r="3.1" fill="#e3b4a8" stroke="#fff" stroke-width="0.45"/>
<circle cx="90.6" cy="367.3" r="3.1" fill="#e3b4a8" stroke="#fff" stroke-width="0.45"/>
<circle cx="97.7" cy="365.6" r="3.1" fill="#e3b4a8" stroke="#fff" stroke-width="0.45"/>
<circle cx="94.9" cy="369.8" r="3.1" fill="#e3b4a8" stroke="#fff" stroke-width="0.45"/>
<circle cx="99.8" cy="373.4" r="3.1" fill="#e3b4a8" stroke="#fff" stroke-width="0.45"/>
<circle cx="104.1" cy="375.5" r="3.1" fill="#e3b4a8" stroke="#fff" stroke-width="0.45"/>
<circle cx="101.3" cy="376.9" r="3.1" fill="#e3b4a8" stroke="#fff" stroke-width="0.45"/>
<circle cx="106.2" cy="365.3" r="3.1" fill="#e3b4a8" stroke="#fff" stroke-width="0.45"/>
<circle cx="111.9" cy="365.6" r="3.1" fill="#e3b4a8" stroke="#fff" stroke-width="0.45"/>
<circle cx="114.8" cy="368.4" r="3.1" fill="#e3b4a8" stroke="#fff" stroke-width="0.45"/>
<circle cx="90.6" cy="378.4" r="3.1" fill="#e3b4a8" stroke="#fff" stroke-width="0.45"/>
<circle cx="93.9" cy="379.1" r="3.1" fill="#e3b4a8" stroke="#fff" stroke-width="0.45"/>
<circle cx="99.4" cy="372.9" r="3.1" fill="#e3b4a8" stroke="#fff" stroke-width="0.45"/>
<circle cx="104.2" cy="343.9" r="3.1" fill="#e3b4a8" stroke="#fff" stroke-width="0.45"/>
<circle cx="112.3" cy="350" r="3.1" fill="#e3b4a8" stroke="#fff" stroke-width="0.45"/>
<circle cx="86.9" cy="354.6" r="3.1" fill="#e3b4a8" stroke="#fff" stroke-width="0.45"/>
<circle cx="82.8" cy="356.7" r="3.1" fill="#e3b4a8" stroke="#fff" stroke-width="0.45"/>
<circle cx="95" cy="369.7" r="3.1" fill="#e3b4a8" stroke="#fff" stroke-width="0.45"/>
<circle cx="106.2" cy="366.2" r="3.1" fill="#e3b4a8" stroke="#fff" stroke-width="0.45"/>
<circle cx="101.1" cy="373.3" r="3.1" fill="#e3b4a8" stroke="#fff" stroke-width="0.45"/>
<circle cx="84.2" cy="376.7" r="3.1" fill="#a67a9d" stroke="#fff" stroke-width="0.45"/>
<circle cx="96.7" cy="385.8" r="3.1" fill="#a67a9d" stroke="#fff" stroke-width="0.45"/>
<circle cx="89.2" cy="387.6" r="3.1" fill="#a67a9d" stroke="#fff" stroke-width="0.45"/>
<circle cx="82.8" cy="390.9" r="3.1" fill="#a67a9d" stroke="#fff" stroke-width="0.45"/>
<circle cx="75.4" cy="398.3" r="3.1" fill="#a67a9d" stroke="#fff" stroke-width="0.45"/>
<circle cx="79.9" cy="407.1" r="3.1" fill="#a67a9d" stroke="#fff" stroke-width="0.45"/>
<circle cx="86.3" cy="405.2" r="3.1" fill="#a67a9d" stroke="#fff" stroke-width="0.45"/>
<circle cx="70.1" cy="408.1" r="3.1" fill="#a67a9d" stroke="#fff" stroke-width="0.45"/>
<circle cx="56.4" cy="411.4" r="3.1" fill="#a67a9d" stroke="#fff" stroke-width="0.45"/>
<circle cx="54.5" cy="419.8" r="3.1" fill="#a67a9d" stroke="#fff" stroke-width="0.45"/>
<circle cx="57" cy="417.5" r="3.1" fill="#a67a9d" stroke="#fff" stroke-width="0.45"/>
<circle cx="53.5" cy="422.7" r="3.1" fill="#a67a9d" stroke="#fff" stroke-width="0.45"/>
<circle cx="61.3" cy="423.7" r="3.1" fill="#a67a9d" stroke="#fff" stroke-width="0.45"/>
<circle cx="70.7" cy="428.2" r="3.1" fill="#a67a9d" stroke="#fff" stroke-width="0.45"/>
<circle cx="115" cy="293.8" r="3.1" fill="#d45a2c" stroke="#fff" stroke-width="0.45"/>
<circle cx="127.8" cy="297.8" r="3.1" fill="#d45a2c" stroke="#fff" stroke-width="0.45"/>
<circle cx="139.4" cy="296.4" r="3.1" fill="#d45a2c" stroke="#fff" stroke-width="0.45"/>
<circle cx="151" cy="297.8" r="3.1" fill="#d45a2c" stroke="#fff" stroke-width="0.45"/>
<circle cx="104.6" cy="312.4" r="3.1" fill="#d45a2c" stroke="#fff" stroke-width="0.45"/>
<circle cx="96.4" cy="314.4" r="3.1" fill="#d45a2c" stroke="#fff" stroke-width="0.45"/>
<circle cx="164.8" cy="288.8" r="3.1" fill="#d45a2c" stroke="#fff" stroke-width="0.45"/>
<circle cx="166.9" cy="290.7" r="3.1" fill="#d45a2c" stroke="#fff" stroke-width="0.45"/>
<circle cx="176.2" cy="287.3" r="3.1" fill="#d45a2c" stroke="#fff" stroke-width="0.45"/>
<circle cx="174.8" cy="294.9" r="3.1" fill="#d45a2c" stroke="#fff" stroke-width="0.45"/>
<circle cx="182.5" cy="296.7" r="3.1" fill="#d45a2c" stroke="#fff" stroke-width="0.45"/>
<circle cx="198" cy="290.5" r="3.1" fill="#d45a2c" stroke="#fff" stroke-width="0.45"/>
<circle cx="162.9" cy="301.6" r="3.1" fill="#d45a2c" stroke="#fff" stroke-width="0.45"/>
<circle cx="162.3" cy="305" r="3.1" fill="#d45a2c" stroke="#fff" stroke-width="0.45"/>
<circle cx="175.8" cy="291.2" r="3.1" fill="#d45a2c" stroke="#fff" stroke-width="0.45"/>
<circle cx="160.7" cy="304.5" r="3.1" fill="#d45a2c" stroke="#fff" stroke-width="0.45"/>
<circle cx="197.1" cy="304" r="3.1" fill="#1c61ad" stroke="#fff" stroke-width="0.45"/>
<circle cx="192.4" cy="317.1" r="3.1" fill="#1c61ad" stroke="#fff" stroke-width="0.45"/>
<circle cx="174.8" cy="343.4" r="3.1" fill="#1c61ad" stroke="#fff" stroke-width="0.45"/>
<circle cx="150.4" cy="367.9" r="3.1" fill="#1c61ad" stroke="#fff" stroke-width="0.45"/>
<circle cx="126.3" cy="380.6" r="3.1" fill="#1c61ad" stroke="#fff" stroke-width="0.45"/>
<line x1="39.8" y1="442.3" x2="191.7" y2="272.5" stroke="#2a7fd5" stroke-width="1.25"/>
<rect x="185.6" y="342.3" width="39.7" height="123.5" fill="#fff" stroke="#222" stroke-width="0.8"/>
<clipPath id="lc693"><rect x="185.6" y="342.3" width="39.1" height="123.5"/></clipPath>
<circle cx="190" cy="349.4" r="3.05" fill="#fb8df3"/>
<text x="201.2" y="351.85" font-size="5.7" fill="#2a2a2a" letter-spacing="-0.15" clip-path="url(#lc693)">Holocene</text>
<circle cx="190" cy="363.1" r="3.05" fill="#7bb0df"/>
<text x="201.2" y="365.55" font-size="5.7" fill="#2a2a2a" letter-spacing="-0.15" clip-path="url(#lc693)">T1</text>
<circle cx="190" cy="376.8" r="3.05" fill="#9b9a62"/>
<text x="201.2" y="379.25" font-size="5.7" fill="#2a2a2a" letter-spacing="-0.15" clip-path="url(#lc693)">MIS 2</text>
<circle cx="190" cy="390.5" r="3.05" fill="#e2d66e"/>
<text x="201.2" y="392.95" font-size="5.7" fill="#2a2a2a" letter-spacing="-0.15" clip-path="url(#lc693)">MIS 3</text>
<circle cx="190" cy="404.2" r="3.05" fill="#a67a9d"/>
<text x="201.2" y="406.65" font-size="5.7" fill="#2a2a2a" letter-spacing="-0.15" clip-path="url(#lc693)">MIS 4</text>
<circle cx="190" cy="417.9" r="3.05" fill="#e3b4a8"/>
<text x="201.2" y="420.35" font-size="5.7" fill="#2a2a2a" letter-spacing="-0.15" clip-path="url(#lc693)">MIS 5</text>
<circle cx="190" cy="431.6" r="3.05" fill="#d45a2c"/>
<text x="201.2" y="434.05" font-size="5.7" fill="#2a2a2a" letter-spacing="-0.15" clip-path="url(#lc693)">MIS 5e</text>
<circle cx="190" cy="445.3" r="3.05" fill="#1c61ad"/>
<text x="201.2" y="447.75" font-size="5.7" fill="#2a2a2a" letter-spacing="-0.15" clip-path="url(#lc693)">T2</text>
<circle cx="190" cy="459" r="3.05" fill="#4b4b4b"/>
<text x="201.2" y="461.45" font-size="5.7" fill="#2a2a2a" letter-spacing="-0.15" clip-path="url(#lc693)">MIS 6</text>
<text x="45.1" y="267.49" font-size="7.2" text-anchor="middle" fill="#111" stroke="#111" stroke-width="0.12">d)</text>
<text x="111.7" y="288.6" font-size="7.5" text-anchor="middle" fill="#111" stroke="#111" stroke-width="0.12">115kry</text>
<text x="102.3" y="306.5" font-size="7.5" text-anchor="middle" fill="#111" stroke="#111" stroke-width="0.12">114kry</text>
<text x="83.1" y="315.5" font-size="7.5" text-anchor="middle" fill="#111" stroke="#111" stroke-width="0.12">113kry</text>
<text x="173.4" y="272.2" font-size="7.5" text-anchor="middle" fill="#111" stroke="#111" stroke-width="0.12">126kry</text>
<line x1="173.2" y1="278.5" x2="174.2" y2="290.5" stroke="#111" stroke-width="0.9"/>
<path d="M171.9 289.6 L174.5 294.6 L176.3 289.3 Z" fill="#111"/>
<text x="197.81" y="284.41" font-size="7.5" text-anchor="middle" fill="#111" stroke="#111" stroke-width="0.12" transform="rotate(-42 197.81 284.41)">127kry</text>
<text x="212.4" y="288.4" font-size="7.5" text-anchor="middle" fill="#111" stroke="#111" stroke-width="0.12" transform="rotate(-90 212.4 288.4)">128kry</text>
<text x="127.87" y="326.94" font-size="7.5" text-anchor="middle" fill="#2a7fd5" stroke="#2a7fd5" stroke-width="0.16" transform="rotate(-41 127.87 326.94)">Y = 8.29 * X + 286.62</text>
<text x="133.37" y="334.14" font-size="7.5" text-anchor="middle" fill="#2a7fd5" stroke="#2a7fd5" stroke-width="0.16" transform="rotate(-41 133.37 334.14)">n=149, R<tspan font-size="4.8" dy="-2.6">2</tspan><tspan dy="2.6">=</tspan>0.82</text>
<text x="130.3" y="400.7" font-size="7.5" text-anchor="middle" fill="#111" stroke="#111" stroke-width="0.12" transform="rotate(-39 130.3 400.7)">Y = 7.77 * X + 257.78</text>
<text x="136.4" y="408.9" font-size="7.5" text-anchor="middle" fill="#111" stroke="#111" stroke-width="0.12" transform="rotate(-39 136.4 408.9)">n=92, R<tspan font-size="4.8" dy="-2.6">2</tspan><tspan dy="2.6">=</tspan>0.92</text>
<text x="142.5" y="416" font-size="7.5" text-anchor="middle" fill="#111" stroke="#111" stroke-width="0.12" transform="rotate(-39 142.5 416)">(excluding MIS 5)</text>
<path d="M264.4 250.7 H457.8 V465" fill="none" stroke="#111" stroke-width="1.15"/>
<line x1="264.4" y1="250.2" x2="264.4" y2="465" stroke="#111" stroke-width="1.2"/>
<line x1="263.8" y1="465.2" x2="458.35" y2="465.2" stroke="#111" stroke-width="1.5"/>
<line x1="260.1" y1="457.1" x2="264.4" y2="457.1" stroke="#111" stroke-width="1.1"/>
<text x="258.2" y="459.85" font-size="7.5" text-anchor="end" fill="#111" stroke="#111" stroke-width="0.12">180</text>
<line x1="260.1" y1="422.7" x2="264.4" y2="422.7" stroke="#111" stroke-width="1.1"/>
<text x="258.2" y="425.45" font-size="7.5" text-anchor="end" fill="#111" stroke="#111" stroke-width="0.12">200</text>
<line x1="260.1" y1="388.3" x2="264.4" y2="388.3" stroke="#111" stroke-width="1.1"/>
<text x="258.2" y="391.05" font-size="7.5" text-anchor="end" fill="#111" stroke="#111" stroke-width="0.12">220</text>
<line x1="260.1" y1="353.9" x2="264.4" y2="353.9" stroke="#111" stroke-width="1.1"/>
<text x="258.2" y="356.65" font-size="7.5" text-anchor="end" fill="#111" stroke="#111" stroke-width="0.12">240</text>
<line x1="260.1" y1="319.5" x2="264.4" y2="319.5" stroke="#111" stroke-width="1.1"/>
<text x="258.2" y="322.25" font-size="7.5" text-anchor="end" fill="#111" stroke="#111" stroke-width="0.12">260</text>
<line x1="260.1" y1="285.1" x2="264.4" y2="285.1" stroke="#111" stroke-width="1.1"/>
<text x="258.2" y="287.85" font-size="7.5" text-anchor="end" fill="#111" stroke="#111" stroke-width="0.12">280</text>
<line x1="260.1" y1="250.7" x2="264.4" y2="250.7" stroke="#111" stroke-width="1.1"/>
<text x="258.2" y="253.45" font-size="7.5" text-anchor="end" fill="#111" stroke="#111" stroke-width="0.12">300</text>
<line x1="279.1" y1="465" x2="279.1" y2="469.3" stroke="#111" stroke-width="1.1"/>
<text x="279.1" y="480.6" font-size="7.5" text-anchor="middle" fill="#111" stroke="#111" stroke-width="0.12">0.1</text>
<line x1="304.6" y1="465" x2="304.6" y2="469.3" stroke="#111" stroke-width="1.1"/>
<text x="304.6" y="480.6" font-size="7.5" text-anchor="middle" fill="#111" stroke="#111" stroke-width="0.12">0.2</text>
<line x1="330.1" y1="465" x2="330.1" y2="469.3" stroke="#111" stroke-width="1.1"/>
<text x="330.1" y="480.6" font-size="7.5" text-anchor="middle" fill="#111" stroke="#111" stroke-width="0.12">0.3</text>
<line x1="355.6" y1="465" x2="355.6" y2="469.3" stroke="#111" stroke-width="1.1"/>
<text x="355.6" y="480.6" font-size="7.5" text-anchor="middle" fill="#111" stroke="#111" stroke-width="0.12">0.4</text>
<line x1="381.1" y1="465" x2="381.1" y2="469.3" stroke="#111" stroke-width="1.1"/>
<text x="381.1" y="480.6" font-size="7.5" text-anchor="middle" fill="#111" stroke="#111" stroke-width="0.12">0.5</text>
<line x1="406.6" y1="465" x2="406.6" y2="469.3" stroke="#111" stroke-width="1.1"/>
<text x="406.6" y="480.6" font-size="7.5" text-anchor="middle" fill="#111" stroke="#111" stroke-width="0.12">0.6</text>
<line x1="432.1" y1="465" x2="432.1" y2="469.3" stroke="#111" stroke-width="1.1"/>
<text x="432.1" y="480.6" font-size="7.5" text-anchor="middle" fill="#111" stroke="#111" stroke-width="0.12">0.7</text>
<line x1="457.6" y1="465" x2="457.6" y2="469.3" stroke="#111" stroke-width="1.1"/>
<text x="457.6" y="480.6" font-size="7.5" text-anchor="middle" fill="#111" stroke="#111" stroke-width="0.12">0.8</text>
<text x="241.3" y="357.9" font-size="7.5" text-anchor="middle" fill="#111" stroke="#111" stroke-width="0.12" transform="rotate(-90 241.3 357.9)">CO<tspan font-size="5" dy="1.8">2</tspan><tspan dy="-1.8"> (ppmv)</tspan></text>
<text x="361" y="489.7" font-size="7.5" text-anchor="middle" fill="#111" stroke="#111" stroke-width="0.12">Antarctic (Opal+Ba) stack</text>
<line x1="271.9" y1="439.8" x2="432.7" y2="275.6" stroke="#111" stroke-width="1.2"/>
<circle cx="336.7" cy="399.3" r="3.1" fill="#4b4b4b" stroke="#fff" stroke-width="0.45"/>
<circle cx="308.5" cy="412.9" r="3.1" fill="#4b4b4b" stroke="#fff" stroke-width="0.45"/>
<circle cx="296.8" cy="424.6" r="3.1" fill="#4b4b4b" stroke="#fff" stroke-width="0.45"/>
<circle cx="271.4" cy="423.1" r="3.1" fill="#4b4b4b" stroke="#fff" stroke-width="0.45"/>
<circle cx="272.2" cy="430.5" r="3.1" fill="#4b4b4b" stroke="#fff" stroke-width="0.45"/>
<circle cx="272.8" cy="433.4" r="3.1" fill="#4b4b4b" stroke="#fff" stroke-width="0.45"/>
<circle cx="275.7" cy="432.4" r="3.1" fill="#4b4b4b" stroke="#fff" stroke-width="0.45"/>
<circle cx="292.9" cy="433.4" r="3.1" fill="#4b4b4b" stroke="#fff" stroke-width="0.45"/>
<circle cx="275.1" cy="449" r="3.1" fill="#4b4b4b" stroke="#fff" stroke-width="0.45"/>
<circle cx="325.1" cy="385" r="3.1" fill="#7bb0df" stroke="#fff" stroke-width="0.45"/>
<circle cx="305.4" cy="426.6" r="3.1" fill="#7bb0df" stroke="#fff" stroke-width="0.45"/>
<circle cx="289.8" cy="449.6" r="3.1" fill="#7bb0df" stroke="#fff" stroke-width="0.45"/>
<circle cx="340.5" cy="359.2" r="3.1" fill="#7bb0df" stroke="#fff" stroke-width="0.45"/>
<circle cx="341.5" cy="363.4" r="3.1" fill="#7bb0df" stroke="#fff" stroke-width="0.45"/>
<circle cx="342.6" cy="372" r="3.1" fill="#7bb0df" stroke="#fff" stroke-width="0.45"/>
<circle cx="384.5" cy="307.2" r="3.1" fill="#7bb0df" stroke="#fff" stroke-width="0.45"/>
<circle cx="353" cy="333" r="3.1" fill="#7bb0df" stroke="#fff" stroke-width="0.45"/>
<circle cx="397.1" cy="288.3" r="3.1" fill="#fb8df3" stroke="#fff" stroke-width="0.45"/>
<circle cx="385.9" cy="292.8" r="3.1" fill="#fb8df3" stroke="#fff" stroke-width="0.45"/>
<circle cx="392" cy="295" r="3.1" fill="#fb8df3" stroke="#fff" stroke-width="0.45"/>
<circle cx="410.8" cy="286.6" r="3.1" fill="#fb8df3" stroke="#fff" stroke-width="0.45"/>
<circle cx="387.5" cy="307.6" r="3.1" fill="#fb8df3" stroke="#fff" stroke-width="0.45"/>
<circle cx="394.2" cy="303.5" r="3.1" fill="#fb8df3" stroke="#fff" stroke-width="0.45"/>
<circle cx="371.7" cy="312.3" r="3.1" fill="#fb8df3" stroke="#fff" stroke-width="0.45"/>
<circle cx="369.2" cy="315.1" r="3.1" fill="#fb8df3" stroke="#fff" stroke-width="0.45"/>
<circle cx="381.2" cy="318.2" r="3.1" fill="#fb8df3" stroke="#fff" stroke-width="0.45"/>
<circle cx="381.8" cy="323.3" r="3.1" fill="#fb8df3" stroke="#fff" stroke-width="0.45"/>
<circle cx="285.5" cy="440.2" r="3.1" fill="#9b9a62" stroke="#fff" stroke-width="0.45"/>
<circle cx="280" cy="445.1" r="3.1" fill="#9b9a62" stroke="#fff" stroke-width="0.45"/>
<circle cx="278" cy="449" r="3.1" fill="#9b9a62" stroke="#fff" stroke-width="0.45"/>
<circle cx="279.6" cy="450.4" r="3.1" fill="#9b9a62" stroke="#fff" stroke-width="0.45"/>
<circle cx="278" cy="455.9" r="3.1" fill="#9b9a62" stroke="#fff" stroke-width="0.45"/>
<circle cx="297.8" cy="384.7" r="3.1" fill="#e2d66e" stroke="#fff" stroke-width="0.45"/>
<circle cx="306.6" cy="391" r="3.1" fill="#e2d66e" stroke="#fff" stroke-width="0.45"/>
<circle cx="300.9" cy="394.5" r="3.1" fill="#e2d66e" stroke="#fff" stroke-width="0.45"/>
<circle cx="294.2" cy="402.8" r="3.1" fill="#e2d66e" stroke="#fff" stroke-width="0.45"/>
<circle cx="297.2" cy="405.1" r="3.1" fill="#e2d66e" stroke="#fff" stroke-width="0.45"/>
<circle cx="287.4" cy="412.9" r="3.1" fill="#e2d66e" stroke="#fff" stroke-width="0.45"/>
<circle cx="302" cy="416.4" r="3.1" fill="#e2d66e" stroke="#fff" stroke-width="0.45"/>
<circle cx="284.5" cy="421.7" r="3.1" fill="#e2d66e" stroke="#fff" stroke-width="0.45"/>
<circle cx="286.4" cy="428.1" r="3.1" fill="#e2d66e" stroke="#fff" stroke-width="0.45"/>
<circle cx="281.2" cy="430.5" r="3.1" fill="#e2d66e" stroke="#fff" stroke-width="0.45"/>
<circle cx="289" cy="429.5" r="3.1" fill="#e2d66e" stroke="#fff" stroke-width="0.45"/>
<circle cx="282.5" cy="435.4" r="3.1" fill="#e2d66e" stroke="#fff" stroke-width="0.45"/>
<circle cx="279.6" cy="437.3" r="3.1" fill="#e2d66e" stroke="#fff" stroke-width="0.45"/>
<circle cx="291.3" cy="439.7" r="3.1" fill="#e2d66e" stroke="#fff" stroke-width="0.45"/>
<circle cx="279.2" cy="442.2" r="3.1" fill="#e2d66e" stroke="#fff" stroke-width="0.45"/>
<circle cx="315.7" cy="370" r="3.1" fill="#e3b4a8" stroke="#fff" stroke-width="0.45"/>
<circle cx="320.6" cy="370" r="3.1" fill="#e3b4a8" stroke="#fff" stroke-width="0.45"/>
<circle cx="331.9" cy="389.6" r="3.1" fill="#e3b4a8" stroke="#fff" stroke-width="0.45"/>
<circle cx="338.2" cy="377.1" r="3.1" fill="#e3b4a8" stroke="#fff" stroke-width="0.45"/>
<circle cx="342.3" cy="386.4" r="3.1" fill="#e3b4a8" stroke="#fff" stroke-width="0.45"/>
<circle cx="345.4" cy="336.8" r="3.1" fill="#e3b4a8" stroke="#fff" stroke-width="0.45"/>
<circle cx="343.3" cy="343.5" r="3.1" fill="#e3b4a8" stroke="#fff" stroke-width="0.45"/>
<circle cx="346.6" cy="343.1" r="3.1" fill="#e3b4a8" stroke="#fff" stroke-width="0.45"/>
<circle cx="331.9" cy="348.5" r="3.1" fill="#e3b4a8" stroke="#fff" stroke-width="0.45"/>
<circle cx="319.5" cy="355.6" r="3.1" fill="#e3b4a8" stroke="#fff" stroke-width="0.45"/>
<circle cx="344.7" cy="357" r="3.1" fill="#e3b4a8" stroke="#fff" stroke-width="0.45"/>
<circle cx="348.3" cy="356.7" r="3.1" fill="#e3b4a8" stroke="#fff" stroke-width="0.45"/>
<circle cx="337.6" cy="366.7" r="3.1" fill="#e3b4a8" stroke="#fff" stroke-width="0.45"/>
<circle cx="315.8" cy="367.7" r="3.1" fill="#e3b4a8" stroke="#fff" stroke-width="0.45"/>
<circle cx="321.3" cy="367.7" r="3.1" fill="#e3b4a8" stroke="#fff" stroke-width="0.45"/>
<circle cx="347.6" cy="374.8" r="3.1" fill="#e3b4a8" stroke="#fff" stroke-width="0.45"/>
<circle cx="365.6" cy="324.9" r="3.1" fill="#e3b4a8" stroke="#fff" stroke-width="0.45"/>
<circle cx="372.1" cy="324.5" r="3.1" fill="#e3b4a8" stroke="#fff" stroke-width="0.45"/>
<circle cx="359.5" cy="345.2" r="3.1" fill="#e3b4a8" stroke="#fff" stroke-width="0.45"/>
<circle cx="364.1" cy="345.8" r="3.1" fill="#e3b4a8" stroke="#fff" stroke-width="0.45"/>
<circle cx="374.3" cy="343.2" r="3.1" fill="#e3b4a8" stroke="#fff" stroke-width="0.45"/>
<circle cx="377.8" cy="342.8" r="3.1" fill="#e3b4a8" stroke="#fff" stroke-width="0.45"/>
<circle cx="386.5" cy="343.2" r="3.1" fill="#e3b4a8" stroke="#fff" stroke-width="0.45"/>
<circle cx="375.7" cy="346.2" r="3.1" fill="#e3b4a8" stroke="#fff" stroke-width="0.45"/>
<circle cx="380.4" cy="344.8" r="3.1" fill="#e3b4a8" stroke="#fff" stroke-width="0.45"/>
<circle cx="373.7" cy="349.3" r="3.1" fill="#e3b4a8" stroke="#fff" stroke-width="0.45"/>
<circle cx="378.8" cy="348.9" r="3.1" fill="#e3b4a8" stroke="#fff" stroke-width="0.45"/>
<circle cx="356.8" cy="353.3" r="3.1" fill="#e3b4a8" stroke="#fff" stroke-width="0.45"/>
<circle cx="360.9" cy="352.3" r="3.1" fill="#e3b4a8" stroke="#fff" stroke-width="0.45"/>
<circle cx="368.2" cy="355.4" r="3.1" fill="#e3b4a8" stroke="#fff" stroke-width="0.45"/>
<circle cx="377.2" cy="356.4" r="3.1" fill="#e3b4a8" stroke="#fff" stroke-width="0.45"/>
<circle cx="382.4" cy="353.7" r="3.1" fill="#e3b4a8" stroke="#fff" stroke-width="0.45"/>
<circle cx="356.4" cy="364.5" r="3.1" fill="#e3b4a8" stroke="#fff" stroke-width="0.45"/>
<circle cx="361.5" cy="364.5" r="3.1" fill="#e3b4a8" stroke="#fff" stroke-width="0.45"/>
<circle cx="338.1" cy="366.5" r="3.1" fill="#e3b4a8" stroke="#fff" stroke-width="0.45"/>
<circle cx="354.4" cy="367.6" r="3.1" fill="#e3b4a8" stroke="#fff" stroke-width="0.45"/>
<circle cx="313.8" cy="375.9" r="3.1" fill="#a67a9d" stroke="#fff" stroke-width="0.45"/>
<circle cx="311.8" cy="384.6" r="3.1" fill="#a67a9d" stroke="#fff" stroke-width="0.45"/>
<circle cx="310.8" cy="387.2" r="3.1" fill="#a67a9d" stroke="#fff" stroke-width="0.45"/>
<circle cx="316.3" cy="389.5" r="3.1" fill="#a67a9d" stroke="#fff" stroke-width="0.45"/>
<circle cx="304" cy="397.7" r="3.1" fill="#a67a9d" stroke="#fff" stroke-width="0.45"/>
<circle cx="300.1" cy="404.1" r="3.1" fill="#a67a9d" stroke="#fff" stroke-width="0.45"/>
<circle cx="304" cy="407.1" r="3.1" fill="#a67a9d" stroke="#fff" stroke-width="0.45"/>
<circle cx="316.3" cy="406.1" r="3.1" fill="#a67a9d" stroke="#fff" stroke-width="0.45"/>
<circle cx="292.9" cy="410.6" r="3.1" fill="#a67a9d" stroke="#fff" stroke-width="0.45"/>
<circle cx="290.9" cy="416.8" r="3.1" fill="#a67a9d" stroke="#fff" stroke-width="0.45"/>
<circle cx="294.8" cy="418.4" r="3.1" fill="#a67a9d" stroke="#fff" stroke-width="0.45"/>
<circle cx="290.3" cy="421.7" r="3.1" fill="#a67a9d" stroke="#fff" stroke-width="0.45"/>
<circle cx="295.2" cy="422.7" r="3.1" fill="#a67a9d" stroke="#fff" stroke-width="0.45"/>
<circle cx="300.7" cy="422.7" r="3.1" fill="#a67a9d" stroke="#fff" stroke-width="0.45"/>
<circle cx="291.3" cy="427.2" r="3.1" fill="#a67a9d" stroke="#fff" stroke-width="0.45"/>
<circle cx="312" cy="384.3" r="3.1" fill="#a67a9d" stroke="#fff" stroke-width="0.45"/>
<circle cx="387.9" cy="289.3" r="3.1" fill="#d45a2c" stroke="#fff" stroke-width="0.45"/>
<circle cx="415.7" cy="289.5" r="3.1" fill="#d45a2c" stroke="#fff" stroke-width="0.45"/>
<circle cx="420.1" cy="289" r="3.1" fill="#d45a2c" stroke="#fff" stroke-width="0.45"/>
<circle cx="424" cy="286.2" r="3.1" fill="#d45a2c" stroke="#fff" stroke-width="0.45"/>
<circle cx="419.5" cy="287.6" r="3.1" fill="#d45a2c" stroke="#fff" stroke-width="0.45"/>
<circle cx="412.6" cy="293.1" r="3.1" fill="#d45a2c" stroke="#fff" stroke-width="0.45"/>
<circle cx="407.6" cy="295.5" r="3.1" fill="#d45a2c" stroke="#fff" stroke-width="0.45"/>
<circle cx="414.4" cy="296.8" r="3.1" fill="#d45a2c" stroke="#fff" stroke-width="0.45"/>
<circle cx="420.7" cy="295.5" r="3.1" fill="#d45a2c" stroke="#fff" stroke-width="0.45"/>
<circle cx="432" cy="291.1" r="3.1" fill="#d45a2c" stroke="#fff" stroke-width="0.45"/>
<circle cx="430" cy="296.3" r="3.1" fill="#d45a2c" stroke="#fff" stroke-width="0.45"/>
<circle cx="425.4" cy="300.9" r="3.1" fill="#d45a2c" stroke="#fff" stroke-width="0.45"/>
<circle cx="432.3" cy="304.1" r="3.1" fill="#d45a2c" stroke="#fff" stroke-width="0.45"/>
<circle cx="401.7" cy="311.4" r="3.1" fill="#d45a2c" stroke="#fff" stroke-width="0.45"/>
<circle cx="390.6" cy="313.1" r="3.1" fill="#d45a2c" stroke="#fff" stroke-width="0.45"/>
<circle cx="424" cy="286.3" r="3.1" fill="#d45a2c" stroke="#fff" stroke-width="0.45"/>
<circle cx="343.2" cy="367.3" r="3.1" fill="#1c61ad" stroke="#fff" stroke-width="0.45"/>
<circle cx="346.1" cy="379.8" r="3.1" fill="#1c61ad" stroke="#fff" stroke-width="0.45"/>
<circle cx="376.1" cy="302.9" r="3.1" fill="#1c61ad" stroke="#fff" stroke-width="0.45"/>
<circle cx="382.8" cy="315.7" r="3.1" fill="#1c61ad" stroke="#fff" stroke-width="0.45"/>
<circle cx="353.4" cy="342.2" r="3.1" fill="#1c61ad" stroke="#fff" stroke-width="0.45"/>
<rect x="418.4" y="341.2" width="39.4" height="123.8" fill="#fff" stroke="#222" stroke-width="0.8"/>
<clipPath id="lc883"><rect x="418.4" y="341.2" width="38.8" height="123.8"/></clipPath>
<circle cx="422.7" cy="348.4" r="3.05" fill="#fb8df3"/>
<text x="434" y="350.85" font-size="5.7" fill="#2a2a2a" letter-spacing="-0.15" clip-path="url(#lc883)">Holocene</text>
<circle cx="422.7" cy="362.1" r="3.05" fill="#7bb0df"/>
<text x="434" y="364.55" font-size="5.7" fill="#2a2a2a" letter-spacing="-0.15" clip-path="url(#lc883)">T1</text>
<circle cx="422.7" cy="375.8" r="3.05" fill="#9b9a62"/>
<text x="434" y="378.25" font-size="5.7" fill="#2a2a2a" letter-spacing="-0.15" clip-path="url(#lc883)">MIS 2</text>
<circle cx="422.7" cy="389.5" r="3.05" fill="#e2d66e"/>
<text x="434" y="391.95" font-size="5.7" fill="#2a2a2a" letter-spacing="-0.15" clip-path="url(#lc883)">MIS 3</text>
<circle cx="422.7" cy="403.2" r="3.05" fill="#a67a9d"/>
<text x="434" y="405.65" font-size="5.7" fill="#2a2a2a" letter-spacing="-0.15" clip-path="url(#lc883)">MIS 4</text>
<circle cx="422.7" cy="416.9" r="3.05" fill="#e3b4a8"/>
<text x="434" y="419.35" font-size="5.7" fill="#2a2a2a" letter-spacing="-0.15" clip-path="url(#lc883)">MIS 5</text>
<circle cx="422.7" cy="430.6" r="3.05" fill="#d45a2c"/>
<text x="434" y="433.05" font-size="5.7" fill="#2a2a2a" letter-spacing="-0.15" clip-path="url(#lc883)">MIS 5e</text>
<circle cx="422.7" cy="444.3" r="3.05" fill="#1c61ad"/>
<text x="434" y="446.75" font-size="5.7" fill="#2a2a2a" letter-spacing="-0.15" clip-path="url(#lc883)">T2</text>
<circle cx="422.7" cy="458" r="3.05" fill="#4b4b4b"/>
<text x="434" y="460.45" font-size="5.7" fill="#2a2a2a" letter-spacing="-0.15" clip-path="url(#lc883)">MIS 6</text>
<text x="276.9" y="266.89" font-size="7.2" text-anchor="middle" fill="#111" stroke="#111" stroke-width="0.12">e)</text>
<text x="372.01" y="406.51" font-size="7.5" text-anchor="middle" fill="#111" stroke="#111" stroke-width="0.12" transform="rotate(-42 372.01 406.51)">Y = 151.40 * X + 179.31</text>
<text x="378.71" y="413.01" font-size="7.5" text-anchor="middle" fill="#111" stroke="#111" stroke-width="0.12" transform="rotate(-42 378.71 413.01)">n=149, R<tspan font-size="4.8" dy="-2.6">2</tspan><tspan dy="2.6">=</tspan>0.92</text>
<path d="M488.8 250.6 H682.6 V465" fill="none" stroke="#111" stroke-width="1.15"/>
<line x1="488.8" y1="250.1" x2="488.8" y2="465" stroke="#111" stroke-width="1.2"/>
<line x1="488.2" y1="465.2" x2="683.15" y2="465.2" stroke="#111" stroke-width="1.5"/>
<line x1="484.5" y1="457" x2="488.8" y2="457" stroke="#111" stroke-width="1.1"/>
<text x="482.6" y="459.75" font-size="7.5" text-anchor="end" fill="#111" stroke="#111" stroke-width="0.12">180</text>
<line x1="484.5" y1="422.6" x2="488.8" y2="422.6" stroke="#111" stroke-width="1.1"/>
<text x="482.6" y="425.35" font-size="7.5" text-anchor="end" fill="#111" stroke="#111" stroke-width="0.12">200</text>
<line x1="484.5" y1="388.2" x2="488.8" y2="388.2" stroke="#111" stroke-width="1.1"/>
<text x="482.6" y="390.95" font-size="7.5" text-anchor="end" fill="#111" stroke="#111" stroke-width="0.12">220</text>
<line x1="484.5" y1="353.8" x2="488.8" y2="353.8" stroke="#111" stroke-width="1.1"/>
<text x="482.6" y="356.55" font-size="7.5" text-anchor="end" fill="#111" stroke="#111" stroke-width="0.12">240</text>
<line x1="484.5" y1="319.4" x2="488.8" y2="319.4" stroke="#111" stroke-width="1.1"/>
<text x="482.6" y="322.15" font-size="7.5" text-anchor="end" fill="#111" stroke="#111" stroke-width="0.12">260</text>
<line x1="484.5" y1="285" x2="488.8" y2="285" stroke="#111" stroke-width="1.1"/>
<text x="482.6" y="287.75" font-size="7.5" text-anchor="end" fill="#111" stroke="#111" stroke-width="0.12">280</text>
<line x1="484.5" y1="250.6" x2="488.8" y2="250.6" stroke="#111" stroke-width="1.1"/>
<text x="482.6" y="253.35" font-size="7.5" text-anchor="end" fill="#111" stroke="#111" stroke-width="0.12">300</text>
<line x1="488.8" y1="465" x2="488.8" y2="469.3" stroke="#111" stroke-width="1.1"/>
<text x="488.8" y="480.6" font-size="7.5" text-anchor="middle" fill="#111" stroke="#111" stroke-width="0.12">0</text>
<line x1="527.56" y1="465" x2="527.56" y2="469.3" stroke="#111" stroke-width="1.1"/>
<text x="527.56" y="480.6" font-size="7.5" text-anchor="middle" fill="#111" stroke="#111" stroke-width="0.12">0.2</text>
<line x1="566.32" y1="465" x2="566.32" y2="469.3" stroke="#111" stroke-width="1.1"/>
<text x="566.32" y="480.6" font-size="7.5" text-anchor="middle" fill="#111" stroke="#111" stroke-width="0.12">0.4</text>
<line x1="605.08" y1="465" x2="605.08" y2="469.3" stroke="#111" stroke-width="1.1"/>
<text x="605.08" y="480.6" font-size="7.5" text-anchor="middle" fill="#111" stroke="#111" stroke-width="0.12">0.6</text>
<line x1="643.84" y1="465" x2="643.84" y2="469.3" stroke="#111" stroke-width="1.1"/>
<text x="643.84" y="480.6" font-size="7.5" text-anchor="middle" fill="#111" stroke="#111" stroke-width="0.12">0.8</text>
<line x1="682.6" y1="465" x2="682.6" y2="469.3" stroke="#111" stroke-width="1.1"/>
<text x="682.6" y="480.6" font-size="7.5" text-anchor="middle" fill="#111" stroke="#111" stroke-width="0.12">1</text>
<text x="467.5" y="358.5" font-size="7.5" text-anchor="middle" fill="#111" stroke="#111" stroke-width="0.12" transform="rotate(-90 467.5 358.5)">CO<tspan font-size="5" dy="1.8">2</tspan><tspan dy="-1.8"> (ppmv)</tspan></text>
<text x="585.7" y="489.7" font-size="7.5" text-anchor="middle" fill="#111" stroke="#111" stroke-width="0.12">Subarctic Pacific EP stack</text>
<line x1="505.2" y1="447.3" x2="663.3" y2="281.2" stroke="#111" stroke-width="1.2"/>
<line x1="507.3" y1="426.7" x2="647" y2="279.4" stroke="#2a7fd5" stroke-width="1.25"/>
<circle cx="560.3" cy="399.3" r="3.1" fill="#4b4b4b" stroke="#fff" stroke-width="0.45"/>
<circle cx="560.7" cy="413" r="3.1" fill="#4b4b4b" stroke="#fff" stroke-width="0.45"/>
<circle cx="505.8" cy="430.1" r="3.1" fill="#4b4b4b" stroke="#fff" stroke-width="0.45"/>
<circle cx="513.2" cy="431.8" r="3.1" fill="#4b4b4b" stroke="#fff" stroke-width="0.45"/>
<circle cx="524.6" cy="429.4" r="3.1" fill="#4b4b4b" stroke="#fff" stroke-width="0.45"/>
<circle cx="520.3" cy="434.4" r="3.1" fill="#4b4b4b" stroke="#fff" stroke-width="0.45"/>
<circle cx="559.7" cy="424" r="3.1" fill="#4b4b4b" stroke="#fff" stroke-width="0.45"/>
<circle cx="544" cy="433.3" r="3.1" fill="#4b4b4b" stroke="#fff" stroke-width="0.45"/>
<circle cx="523.1" cy="449.1" r="3.1" fill="#4b4b4b" stroke="#fff" stroke-width="0.45"/>
<circle cx="564.2" cy="371.7" r="3.1" fill="#7bb0df" stroke="#fff" stroke-width="0.45"/>
<circle cx="562.5" cy="384.7" r="3.1" fill="#7bb0df" stroke="#fff" stroke-width="0.45"/>
<circle cx="551.1" cy="426.4" r="3.1" fill="#7bb0df" stroke="#fff" stroke-width="0.45"/>
<circle cx="535.4" cy="449.1" r="3.1" fill="#7bb0df" stroke="#fff" stroke-width="0.45"/>
<circle cx="606" cy="307.6" r="3.1" fill="#7bb0df" stroke="#fff" stroke-width="0.45"/>
<circle cx="604.1" cy="332.8" r="3.1" fill="#7bb0df" stroke="#fff" stroke-width="0.45"/>
<circle cx="586.7" cy="359.5" r="3.1" fill="#7bb0df" stroke="#fff" stroke-width="0.45"/>
<circle cx="580.2" cy="363.3" r="3.1" fill="#7bb0df" stroke="#fff" stroke-width="0.45"/>
<circle cx="625.7" cy="312.3" r="3.1" fill="#fb8df3" stroke="#fff" stroke-width="0.45"/>
<circle cx="631.3" cy="318" r="3.1" fill="#fb8df3" stroke="#fff" stroke-width="0.45"/>
<circle cx="636.8" cy="323.1" r="3.1" fill="#fb8df3" stroke="#fff" stroke-width="0.45"/>
<circle cx="630.1" cy="315.6" r="3.1" fill="#fb8df3" stroke="#fff" stroke-width="0.45"/>
<circle cx="658.2" cy="290" r="3.1" fill="#fb8df3" stroke="#fff" stroke-width="0.45"/>
<circle cx="661.8" cy="294.6" r="3.1" fill="#fb8df3" stroke="#fff" stroke-width="0.45"/>
<circle cx="656.5" cy="308.3" r="3.1" fill="#fb8df3" stroke="#fff" stroke-width="0.45"/>
<circle cx="663.9" cy="303.8" r="3.1" fill="#fb8df3" stroke="#fff" stroke-width="0.45"/>
<circle cx="517" cy="440.2" r="3.1" fill="#9b9a62" stroke="#fff" stroke-width="0.45"/>
<circle cx="531" cy="440.9" r="3.1" fill="#9b9a62" stroke="#fff" stroke-width="0.45"/>
<circle cx="522.4" cy="444.1" r="3.1" fill="#9b9a62" stroke="#fff" stroke-width="0.45"/>
<circle cx="521.3" cy="446.7" r="3.1" fill="#9b9a62" stroke="#fff" stroke-width="0.45"/>
<circle cx="516" cy="449.1" r="3.1" fill="#9b9a62" stroke="#fff" stroke-width="0.45"/>
<circle cx="517" cy="456" r="3.1" fill="#9b9a62" stroke="#fff" stroke-width="0.45"/>
<circle cx="540.8" cy="384.8" r="3.1" fill="#e2d66e" stroke="#fff" stroke-width="0.45"/>
<circle cx="544" cy="394.1" r="3.1" fill="#e2d66e" stroke="#fff" stroke-width="0.45"/>
<circle cx="522.4" cy="403.1" r="3.1" fill="#e2d66e" stroke="#fff" stroke-width="0.45"/>
<circle cx="540.8" cy="403.1" r="3.1" fill="#e2d66e" stroke="#fff" stroke-width="0.45"/>
<circle cx="545.1" cy="405.7" r="3.1" fill="#e2d66e" stroke="#fff" stroke-width="0.45"/>
<circle cx="528.5" cy="413.9" r="3.1" fill="#e2d66e" stroke="#fff" stroke-width="0.45"/>
<circle cx="540.3" cy="411.8" r="3.1" fill="#e2d66e" stroke="#fff" stroke-width="0.45"/>
<circle cx="525.7" cy="416.1" r="3.1" fill="#e2d66e" stroke="#fff" stroke-width="0.45"/>
<circle cx="542.5" cy="416.5" r="3.1" fill="#e2d66e" stroke="#fff" stroke-width="0.45"/>
<circle cx="540.8" cy="420.4" r="3.1" fill="#e2d66e" stroke="#fff" stroke-width="0.45"/>
<circle cx="544" cy="420.4" r="3.1" fill="#e2d66e" stroke="#fff" stroke-width="0.45"/>
<circle cx="533.2" cy="422.1" r="3.1" fill="#e2d66e" stroke="#fff" stroke-width="0.45"/>
<circle cx="530.4" cy="428.6" r="3.1" fill="#e2d66e" stroke="#fff" stroke-width="0.45"/>
<circle cx="534.3" cy="430.1" r="3.1" fill="#e2d66e" stroke="#fff" stroke-width="0.45"/>
<circle cx="526.7" cy="435" r="3.1" fill="#e2d66e" stroke="#fff" stroke-width="0.45"/>
<circle cx="524.6" cy="437.6" r="3.1" fill="#e2d66e" stroke="#fff" stroke-width="0.45"/>
<circle cx="527.4" cy="441.9" r="3.1" fill="#e2d66e" stroke="#fff" stroke-width="0.45"/>
<circle cx="536" cy="439.8" r="3.1" fill="#e2d66e" stroke="#fff" stroke-width="0.45"/>
<circle cx="553" cy="319.1" r="3.1" fill="#e3b4a8" stroke="#fff" stroke-width="0.45"/>
<circle cx="549.6" cy="325.2" r="3.1" fill="#e3b4a8" stroke="#fff" stroke-width="0.45"/>
<circle cx="535.9" cy="337.1" r="3.1" fill="#e3b4a8" stroke="#fff" stroke-width="0.45"/>
<circle cx="536.3" cy="342.6" r="3.1" fill="#e3b4a8" stroke="#fff" stroke-width="0.45"/>
<circle cx="539.5" cy="343.1" r="3.1" fill="#e3b4a8" stroke="#fff" stroke-width="0.45"/>
<circle cx="540.3" cy="347.5" r="3.1" fill="#e3b4a8" stroke="#fff" stroke-width="0.45"/>
<circle cx="549.8" cy="343.6" r="3.1" fill="#e3b4a8" stroke="#fff" stroke-width="0.45"/>
<circle cx="550.9" cy="345.5" r="3.1" fill="#e3b4a8" stroke="#fff" stroke-width="0.45"/>
<circle cx="548.5" cy="347.2" r="3.1" fill="#e3b4a8" stroke="#fff" stroke-width="0.45"/>
<circle cx="564.7" cy="343.1" r="3.1" fill="#e3b4a8" stroke="#fff" stroke-width="0.45"/>
<circle cx="567.2" cy="348.5" r="3.1" fill="#e3b4a8" stroke="#fff" stroke-width="0.45"/>
<circle cx="561.5" cy="352.8" r="3.1" fill="#e3b4a8" stroke="#fff" stroke-width="0.45"/>
<circle cx="550.9" cy="355.3" r="3.1" fill="#e3b4a8" stroke="#fff" stroke-width="0.45"/>
<circle cx="555" cy="353.7" r="3.1" fill="#e3b4a8" stroke="#fff" stroke-width="0.45"/>
<circle cx="533.3" cy="355.3" r="3.1" fill="#e3b4a8" stroke="#fff" stroke-width="0.45"/>
<circle cx="537.1" cy="355" r="3.1" fill="#e3b4a8" stroke="#fff" stroke-width="0.45"/>
<circle cx="533" cy="364.7" r="3.1" fill="#e3b4a8" stroke="#fff" stroke-width="0.45"/>
<circle cx="536.3" cy="364.2" r="3.1" fill="#e3b4a8" stroke="#fff" stroke-width="0.45"/>
<circle cx="541.1" cy="365.9" r="3.1" fill="#e3b4a8" stroke="#fff" stroke-width="0.45"/>
<circle cx="544.4" cy="366.7" r="3.1" fill="#e3b4a8" stroke="#fff" stroke-width="0.45"/>
<circle cx="530.6" cy="369.9" r="3.1" fill="#e3b4a8" stroke="#fff" stroke-width="0.45"/>
<circle cx="535.4" cy="371.5" r="3.1" fill="#e3b4a8" stroke="#fff" stroke-width="0.45"/>
<circle cx="540.3" cy="374.8" r="3.1" fill="#e3b4a8" stroke="#fff" stroke-width="0.45"/>
<circle cx="547.6" cy="377.2" r="3.1" fill="#e3b4a8" stroke="#fff" stroke-width="0.45"/>
<circle cx="536.3" cy="378" r="3.1" fill="#e3b4a8" stroke="#fff" stroke-width="0.45"/>
<circle cx="536" cy="385.9" r="3.1" fill="#e3b4a8" stroke="#fff" stroke-width="0.45"/>
<circle cx="537.5" cy="389.1" r="3.1" fill="#e3b4a8" stroke="#fff" stroke-width="0.45"/>
<circle cx="532.1" cy="364.3" r="3.1" fill="#e3b4a8" stroke="#fff" stroke-width="0.45"/>
<circle cx="538.2" cy="368.2" r="3.1" fill="#e3b4a8" stroke="#fff" stroke-width="0.45"/>
<circle cx="542.5" cy="368.2" r="3.1" fill="#e3b4a8" stroke="#fff" stroke-width="0.45"/>
<circle cx="545.1" cy="366.5" r="3.1" fill="#e3b4a8" stroke="#fff" stroke-width="0.45"/>
<circle cx="549.1" cy="324.1" r="3.1" fill="#e3b4a8" stroke="#fff" stroke-width="0.45"/>
<circle cx="530.3" cy="375.5" r="3.1" fill="#a67a9d" stroke="#fff" stroke-width="0.45"/>
<circle cx="544.6" cy="387" r="3.1" fill="#a67a9d" stroke="#fff" stroke-width="0.45"/>
<circle cx="547.7" cy="384.8" r="3.1" fill="#a67a9d" stroke="#fff" stroke-width="0.45"/>
<circle cx="538.6" cy="389.8" r="3.1" fill="#a67a9d" stroke="#fff" stroke-width="0.45"/>
<circle cx="525.7" cy="397.7" r="3.1" fill="#a67a9d" stroke="#fff" stroke-width="0.45"/>
<circle cx="535.4" cy="406.4" r="3.1" fill="#a67a9d" stroke="#fff" stroke-width="0.45"/>
<circle cx="542.5" cy="404.9" r="3.1" fill="#a67a9d" stroke="#fff" stroke-width="0.45"/>
<circle cx="523.5" cy="410.7" r="3.1" fill="#a67a9d" stroke="#fff" stroke-width="0.45"/>
<circle cx="514.4" cy="417.1" r="3.1" fill="#a67a9d" stroke="#fff" stroke-width="0.45"/>
<circle cx="522.4" cy="418.7" r="3.1" fill="#a67a9d" stroke="#fff" stroke-width="0.45"/>
<circle cx="510.1" cy="421.5" r="3.1" fill="#a67a9d" stroke="#fff" stroke-width="0.45"/>
<circle cx="514.9" cy="423" r="3.1" fill="#a67a9d" stroke="#fff" stroke-width="0.45"/>
<circle cx="527.4" cy="422.5" r="3.1" fill="#a67a9d" stroke="#fff" stroke-width="0.45"/>
<circle cx="519.8" cy="426.8" r="3.1" fill="#a67a9d" stroke="#fff" stroke-width="0.45"/>
<circle cx="548.1" cy="384.6" r="3.1" fill="#a67a9d" stroke="#fff" stroke-width="0.45"/>
<circle cx="575.4" cy="292.8" r="3.1" fill="#d45a2c" stroke="#fff" stroke-width="0.45"/>
<circle cx="586.4" cy="296.6" r="3.1" fill="#d45a2c" stroke="#fff" stroke-width="0.45"/>
<circle cx="595.5" cy="295.2" r="3.1" fill="#d45a2c" stroke="#fff" stroke-width="0.45"/>
<circle cx="599.7" cy="296.6" r="3.1" fill="#d45a2c" stroke="#fff" stroke-width="0.45"/>
<circle cx="600.2" cy="300.8" r="3.1" fill="#d45a2c" stroke="#fff" stroke-width="0.45"/>
<circle cx="604.4" cy="304.1" r="3.1" fill="#d45a2c" stroke="#fff" stroke-width="0.45"/>
<circle cx="558.9" cy="311.5" r="3.1" fill="#d45a2c" stroke="#fff" stroke-width="0.45"/>
<circle cx="557.5" cy="313.3" r="3.1" fill="#d45a2c" stroke="#fff" stroke-width="0.45"/>
<circle cx="613.5" cy="289.6" r="3.1" fill="#d45a2c" stroke="#fff" stroke-width="0.45"/>
<circle cx="613" cy="291.6" r="3.1" fill="#d45a2c" stroke="#fff" stroke-width="0.45"/>
<circle cx="620.6" cy="285.9" r="3.1" fill="#d45a2c" stroke="#fff" stroke-width="0.45"/>
<circle cx="620" cy="288.5" r="3.1" fill="#d45a2c" stroke="#fff" stroke-width="0.45"/>
<circle cx="625.2" cy="287.5" r="3.1" fill="#d45a2c" stroke="#fff" stroke-width="0.45"/>
<circle cx="649.6" cy="289.1" r="3.1" fill="#d45a2c" stroke="#fff" stroke-width="0.45"/>
<circle cx="654.1" cy="292.6" r="3.1" fill="#d45a2c" stroke="#fff" stroke-width="0.45"/>
<circle cx="658.2" cy="295.7" r="3.1" fill="#d45a2c" stroke="#fff" stroke-width="0.45"/>
<circle cx="561.7" cy="379.5" r="3.1" fill="#1c61ad" stroke="#fff" stroke-width="0.45"/>
<circle cx="572.6" cy="367.4" r="3.1" fill="#1c61ad" stroke="#fff" stroke-width="0.45"/>
<circle cx="583.2" cy="342.3" r="3.1" fill="#1c61ad" stroke="#fff" stroke-width="0.45"/>
<circle cx="596.7" cy="316" r="3.1" fill="#1c61ad" stroke="#fff" stroke-width="0.45"/>
<circle cx="621.6" cy="303.2" r="3.1" fill="#1c61ad" stroke="#fff" stroke-width="0.45"/>
<rect x="643.1" y="341.4" width="39.5" height="123.6" fill="#fff" stroke="#222" stroke-width="0.8"/>
<clipPath id="lc1056"><rect x="643.1" y="341.4" width="38.9" height="123.6"/></clipPath>
<circle cx="647.2" cy="348.6" r="3.05" fill="#fb8df3"/>
<text x="658.9" y="351.05" font-size="5.7" fill="#2a2a2a" letter-spacing="-0.15" clip-path="url(#lc1056)">Holocene</text>
<circle cx="647.2" cy="362.3" r="3.05" fill="#7bb0df"/>
<text x="658.9" y="364.75" font-size="5.7" fill="#2a2a2a" letter-spacing="-0.15" clip-path="url(#lc1056)">T1</text>
<circle cx="647.2" cy="376" r="3.05" fill="#9b9a62"/>
<text x="658.9" y="378.45" font-size="5.7" fill="#2a2a2a" letter-spacing="-0.15" clip-path="url(#lc1056)">MIS 2</text>
<circle cx="647.2" cy="389.7" r="3.05" fill="#e2d66e"/>
<text x="658.9" y="392.15" font-size="5.7" fill="#2a2a2a" letter-spacing="-0.15" clip-path="url(#lc1056)">MIS 3</text>
<circle cx="647.2" cy="403.4" r="3.05" fill="#a67a9d"/>
<text x="658.9" y="405.85" font-size="5.7" fill="#2a2a2a" letter-spacing="-0.15" clip-path="url(#lc1056)">MIS 4</text>
<circle cx="647.2" cy="417.1" r="3.05" fill="#e3b4a8"/>
<text x="658.9" y="419.55" font-size="5.7" fill="#2a2a2a" letter-spacing="-0.15" clip-path="url(#lc1056)">MIS 5</text>
<circle cx="647.2" cy="430.8" r="3.05" fill="#d45a2c"/>
<text x="658.9" y="433.25" font-size="5.7" fill="#2a2a2a" letter-spacing="-0.15" clip-path="url(#lc1056)">MIS 5e</text>
<circle cx="647.2" cy="444.5" r="3.05" fill="#1c61ad"/>
<text x="658.9" y="446.95" font-size="5.7" fill="#2a2a2a" letter-spacing="-0.15" clip-path="url(#lc1056)">T2</text>
<circle cx="647.2" cy="458.2" r="3.05" fill="#4b4b4b"/>
<text x="658.9" y="460.65" font-size="5.7" fill="#2a2a2a" letter-spacing="-0.15" clip-path="url(#lc1056)">MIS 6</text>
<text x="501.7" y="266.89" font-size="7.2" text-anchor="middle" fill="#111" stroke="#111" stroke-width="0.12">f)</text>
<text x="563.3" y="290.6" font-size="7.5" text-anchor="middle" fill="#111" stroke="#111" stroke-width="0.12">115kry</text>
<text x="548.8" y="306.7" font-size="7.5" text-anchor="middle" fill="#111" stroke="#111" stroke-width="0.12">114kry</text>
<text x="543.9" y="314.4" font-size="7.5" text-anchor="middle" fill="#111" stroke="#111" stroke-width="0.12">113kry</text>
<text x="648.3" y="286.2" font-size="7.5" text-anchor="middle" fill="#111" stroke="#111" stroke-width="0.12">126kry</text>
<text x="669.6" y="292.7" font-size="7.5" text-anchor="middle" fill="#111" stroke="#111" stroke-width="0.12">127kry</text>
<text x="668" y="306.1" font-size="7.5" text-anchor="middle" fill="#111" stroke="#111" stroke-width="0.12">128kry</text>
<text x="569.72" y="334.49" font-size="7.5" text-anchor="middle" fill="#2a7fd5" stroke="#2a7fd5" stroke-width="0.16" transform="rotate(-42.5 569.72 334.49)">Y = 119.09 * X + 186.26</text>
<text x="577.02" y="341.79" font-size="7.5" text-anchor="middle" fill="#2a7fd5" stroke="#2a7fd5" stroke-width="0.16" transform="rotate(-42.5 577.02 341.79)">n=149, R<tspan font-size="4.8" dy="-2.6">2</tspan><tspan dy="2.6">=</tspan>0.66</text>
<text x="600.81" y="369.71" font-size="7.5" text-anchor="middle" fill="#111" stroke="#111" stroke-width="0.12" transform="rotate(-42 600.81 369.71)">Y = 118.30 * X + 175.67</text>
<text x="606.21" y="377.01" font-size="7.5" text-anchor="middle" fill="#111" stroke="#111" stroke-width="0.12" transform="rotate(-42 606.21 377.01)">n=92, R<tspan font-size="4.8" dy="-2.6">2</tspan><tspan dy="2.6">=</tspan>0.88</text>
<text x="612.51" y="383.31" font-size="7.5" text-anchor="middle" fill="#111" stroke="#111" stroke-width="0.12" transform="rotate(-42 612.51 383.31)">(excluding MIS 5)</text>
</svg>
</body></html>
